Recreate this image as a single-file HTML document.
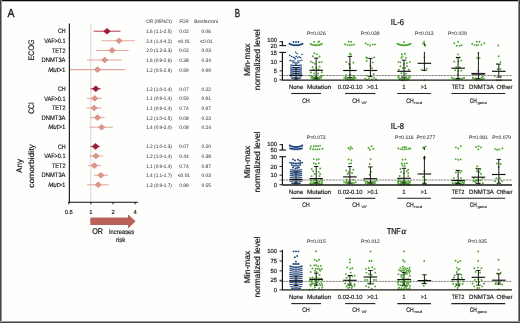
<!DOCTYPE html>
<html><head><meta charset="utf-8"><style>
html,body{margin:0;padding:0;background:#fefefc;}
body{width:520px;height:323px;overflow:hidden;position:relative;}
svg{position:absolute;left:0;top:0;font-family:"Liberation Sans", sans-serif;will-change:transform;transform:translateZ(0);text-rendering:geometricPrecision;}
.bt{position:absolute;left:0;top:0;width:520px;height:1px;background:#0a0a0a;box-shadow:0 1px 0 #bbb;}
.bl{position:absolute;left:0;top:0;width:1px;height:323px;background:#444;box-shadow:1px 0 0 #999;}
.br{position:absolute;left:519px;top:0;width:1px;height:323px;background:#444;box-shadow:-1px 0 0 #888;}
.bb{position:absolute;left:0;top:322px;width:520px;height:1px;background:#444;box-shadow:0 -1px 0 #999;}
</style></head><body>
<svg width="520" height="323" viewBox="0 0 520 323">
<text x="7.40" y="17.20" font-size="11.8" text-anchor="start" fill="#111" stroke="#111" stroke-width="0.330" textLength="7.00" lengthAdjust="spacingAndGlyphs" >A</text>
<line x1="90.8" y1="23.5" x2="90.8" y2="202" stroke="#d2d2d2" stroke-width="0.9"/>
<text x="146.20" y="22.50" font-size="4.9" text-anchor="start" fill="#444" stroke="#444" stroke-width="0.050" textLength="25.70" lengthAdjust="spacingAndGlyphs" >OR (95%CI)</text>
<text x="179.50" y="22.50" font-size="4.9" text-anchor="start" fill="#444" stroke="#444" stroke-width="0.050" textLength="9.20" lengthAdjust="spacingAndGlyphs" >FDR</text>
<text x="194.20" y="22.50" font-size="4.9" text-anchor="start" fill="#444" stroke="#444" stroke-width="0.050" textLength="23.90" lengthAdjust="spacingAndGlyphs" >Bonferroni</text>
<line x1="93.6" y1="31.2" x2="120.5" y2="31.2" stroke="#b3404f" stroke-width="1.05"/>
<path d="M103.3 31.2L107.0 27.9L110.7 31.2L107.0 34.5Z" fill="#9a1e37"/>
<text x="65.50" y="33.30" font-size="6.5" text-anchor="end" fill="#1a1a1a" stroke="#1a1a1a" stroke-width="0.182" textLength="7.60" lengthAdjust="spacingAndGlyphs" >CH</text>
<text x="146.20" y="33.20" font-size="4.9" text-anchor="start" fill="#444" stroke="#444" stroke-width="0.050" textLength="25.70" lengthAdjust="spacingAndGlyphs" >1.6 (1.1-2.5)</text>
<text x="183.90" y="33.20" font-size="4.9" text-anchor="middle" fill="#444" stroke="#444" stroke-width="0.050" >0.02</text>
<text x="206.30" y="33.20" font-size="4.9" text-anchor="middle" fill="#444" stroke="#444" stroke-width="0.050" >0.06</text>
<line x1="101.6" y1="40.8" x2="134.9" y2="40.8" stroke="#e0aa9c" stroke-width="1.05"/>
<path d="M115.3 40.8L119.0 37.5L122.7 40.8L119.0 44.1Z" fill="#d9968a"/>
<text x="65.50" y="42.90" font-size="6.5" text-anchor="end" fill="#1a1a1a" stroke="#1a1a1a" stroke-width="0.182" textLength="21.30" lengthAdjust="spacingAndGlyphs" >VAF&gt;0.1</text>
<text x="146.20" y="42.80" font-size="4.9" text-anchor="start" fill="#444" stroke="#444" stroke-width="0.050" textLength="25.70" lengthAdjust="spacingAndGlyphs" >2.4 (1.4-4.2)</text>
<text x="183.90" y="42.80" font-size="4.9" text-anchor="middle" fill="#444" stroke="#444" stroke-width="0.050" >&lt;0.01</text>
<text x="206.30" y="42.80" font-size="4.9" text-anchor="middle" fill="#444" stroke="#444" stroke-width="0.050" >&lt;0.01</text>
<line x1="95.9" y1="50.4" x2="128.7" y2="50.4" stroke="#e0aa9c" stroke-width="1.05"/>
<path d="M108.4 50.4L112.1 47.1L115.8 50.4L112.1 53.7Z" fill="#d9968a"/>
<text x="65.50" y="52.50" font-size="6.5" text-anchor="end" fill="#1a1a1a" stroke="#1a1a1a" stroke-width="0.182" textLength="13.60" lengthAdjust="spacingAndGlyphs" >TET2</text>
<text x="146.20" y="52.40" font-size="4.9" text-anchor="start" fill="#444" stroke="#444" stroke-width="0.050" textLength="25.70" lengthAdjust="spacingAndGlyphs" >2.0 (1.2-3.3)</text>
<text x="183.90" y="52.40" font-size="4.9" text-anchor="middle" fill="#444" stroke="#444" stroke-width="0.050" >0.02</text>
<text x="206.30" y="52.40" font-size="4.9" text-anchor="middle" fill="#444" stroke="#444" stroke-width="0.050" >0.03</text>
<line x1="87.0" y1="60.0" x2="121.7" y2="60.0" stroke="#e0aa9c" stroke-width="1.05"/>
<path d="M101.0 60.0L104.7 56.7L108.4 60.0L104.7 63.3Z" fill="#d9968a"/>
<text x="65.50" y="62.10" font-size="6.5" text-anchor="end" fill="#1a1a1a" stroke="#1a1a1a" stroke-width="0.182" textLength="23.90" lengthAdjust="spacingAndGlyphs" >DNMT3A</text>
<text x="146.20" y="62.00" font-size="4.9" text-anchor="start" fill="#444" stroke="#444" stroke-width="0.050" textLength="25.70" lengthAdjust="spacingAndGlyphs" >1.6 (0.9-2.6)</text>
<text x="183.90" y="62.00" font-size="4.9" text-anchor="middle" fill="#444" stroke="#444" stroke-width="0.050" >0.38</text>
<text x="206.30" y="62.00" font-size="4.9" text-anchor="middle" fill="#444" stroke="#444" stroke-width="0.050" >0.34</text>
<line x1="69.4" y1="69.6" x2="124.8" y2="69.6" stroke="#e0aa9c" stroke-width="1.05"/>
<path d="M93.8 69.6L97.5 66.3L101.2 69.6L97.5 72.9Z" fill="#d9968a"/>
<text x="65.50" y="71.70" font-size="6.5" text-anchor="end" fill="#1a1a1a" stroke="#1a1a1a" stroke-width="0.182" textLength="17.30" lengthAdjust="spacingAndGlyphs" ><tspan font-style="italic">Mut</tspan>&gt;1</text>
<text x="146.20" y="71.60" font-size="4.9" text-anchor="start" fill="#444" stroke="#444" stroke-width="0.050" textLength="25.70" lengthAdjust="spacingAndGlyphs" >1.2 (0.5-2.9)</text>
<text x="183.90" y="71.60" font-size="4.9" text-anchor="middle" fill="#444" stroke="#444" stroke-width="0.050" >0.99</text>
<text x="206.30" y="71.60" font-size="4.9" text-anchor="middle" fill="#444" stroke="#444" stroke-width="0.050" >0.99</text>
<line x1="90.5" y1="88.8" x2="100.9" y2="88.8" stroke="#b3404f" stroke-width="1.05"/>
<path d="M92.1 88.8L95.8 85.5L99.5 88.8L95.8 92.1Z" fill="#9a1e37"/>
<text x="65.50" y="90.90" font-size="6.5" text-anchor="end" fill="#1a1a1a" stroke="#1a1a1a" stroke-width="0.182" textLength="7.60" lengthAdjust="spacingAndGlyphs" >CH</text>
<text x="146.20" y="90.80" font-size="4.9" text-anchor="start" fill="#444" stroke="#444" stroke-width="0.050" textLength="25.70" lengthAdjust="spacingAndGlyphs" >1.2 (1.0-1.4)</text>
<text x="183.90" y="90.80" font-size="4.9" text-anchor="middle" fill="#444" stroke="#444" stroke-width="0.050" >0.07</text>
<text x="206.30" y="90.80" font-size="4.9" text-anchor="middle" fill="#444" stroke="#444" stroke-width="0.050" >0.22</text>
<line x1="87.0" y1="98.4" x2="102.0" y2="98.4" stroke="#e0aa9c" stroke-width="1.05"/>
<path d="M91.0 98.4L94.7 95.1L98.4 98.4L94.7 101.7Z" fill="#d9968a"/>
<text x="65.50" y="100.50" font-size="6.5" text-anchor="end" fill="#1a1a1a" stroke="#1a1a1a" stroke-width="0.182" textLength="21.30" lengthAdjust="spacingAndGlyphs" >VAF&gt;0.1</text>
<text x="146.20" y="100.40" font-size="4.9" text-anchor="start" fill="#444" stroke="#444" stroke-width="0.050" textLength="25.70" lengthAdjust="spacingAndGlyphs" >1.1 (0.9-1.4)</text>
<text x="183.90" y="100.40" font-size="4.9" text-anchor="middle" fill="#444" stroke="#444" stroke-width="0.050" >0.59</text>
<text x="206.30" y="100.40" font-size="4.9" text-anchor="middle" fill="#444" stroke="#444" stroke-width="0.050" >0.91</text>
<line x1="86.5" y1="108.0" x2="101.6" y2="108.0" stroke="#e0aa9c" stroke-width="1.05"/>
<path d="M90.5 108.0L94.2 104.7L97.9 108.0L94.2 111.3Z" fill="#d9968a"/>
<text x="65.50" y="110.10" font-size="6.5" text-anchor="end" fill="#1a1a1a" stroke="#1a1a1a" stroke-width="0.182" textLength="13.60" lengthAdjust="spacingAndGlyphs" >TET2</text>
<text x="146.20" y="110.00" font-size="4.9" text-anchor="start" fill="#444" stroke="#444" stroke-width="0.050" textLength="25.70" lengthAdjust="spacingAndGlyphs" >1.1 (0.9-1.4)</text>
<text x="183.90" y="110.00" font-size="4.9" text-anchor="middle" fill="#444" stroke="#444" stroke-width="0.050" >0.74</text>
<text x="206.30" y="110.00" font-size="4.9" text-anchor="middle" fill="#444" stroke="#444" stroke-width="0.050" >0.97</text>
<line x1="90.0" y1="117.6" x2="104.7" y2="117.6" stroke="#e0aa9c" stroke-width="1.05"/>
<path d="M93.8 117.6L97.5 114.3L101.2 117.6L97.5 120.9Z" fill="#d9968a"/>
<text x="65.50" y="119.70" font-size="6.5" text-anchor="end" fill="#1a1a1a" stroke="#1a1a1a" stroke-width="0.182" textLength="23.90" lengthAdjust="spacingAndGlyphs" >DNMT3A</text>
<text x="146.20" y="119.60" font-size="4.9" text-anchor="start" fill="#444" stroke="#444" stroke-width="0.050" textLength="25.70" lengthAdjust="spacingAndGlyphs" >1.2 (1.0-1.5)</text>
<text x="183.90" y="119.60" font-size="4.9" text-anchor="middle" fill="#444" stroke="#444" stroke-width="0.050" >0.08</text>
<text x="206.30" y="119.60" font-size="4.9" text-anchor="middle" fill="#444" stroke="#444" stroke-width="0.050" >0.23</text>
<line x1="89.3" y1="127.2" x2="112.9" y2="127.2" stroke="#e0aa9c" stroke-width="1.05"/>
<path d="M97.9 127.2L101.6 123.9L105.3 127.2L101.6 130.5Z" fill="#d9968a"/>
<text x="65.50" y="129.30" font-size="6.5" text-anchor="end" fill="#1a1a1a" stroke="#1a1a1a" stroke-width="0.182" textLength="17.30" lengthAdjust="spacingAndGlyphs" ><tspan font-style="italic">Mut</tspan>&gt;1</text>
<text x="146.20" y="129.20" font-size="4.9" text-anchor="start" fill="#444" stroke="#444" stroke-width="0.050" textLength="25.70" lengthAdjust="spacingAndGlyphs" >1.4 (0.9-2.0)</text>
<text x="183.90" y="129.20" font-size="4.9" text-anchor="middle" fill="#444" stroke="#444" stroke-width="0.050" >0.08</text>
<text x="206.30" y="129.20" font-size="4.9" text-anchor="middle" fill="#444" stroke="#444" stroke-width="0.050" >0.24</text>
<line x1="90.5" y1="146.4" x2="100.1" y2="146.4" stroke="#b3404f" stroke-width="1.05"/>
<path d="M91.8 146.4L95.5 143.1L99.2 146.4L95.5 149.7Z" fill="#9a1e37"/>
<text x="65.50" y="148.50" font-size="6.5" text-anchor="end" fill="#1a1a1a" stroke="#1a1a1a" stroke-width="0.182" textLength="7.60" lengthAdjust="spacingAndGlyphs" >CH</text>
<text x="146.20" y="148.40" font-size="4.9" text-anchor="start" fill="#444" stroke="#444" stroke-width="0.050" textLength="25.70" lengthAdjust="spacingAndGlyphs" >1.2 (1.0-1.3)</text>
<text x="183.90" y="148.40" font-size="4.9" text-anchor="middle" fill="#444" stroke="#444" stroke-width="0.050" >0.07</text>
<text x="206.30" y="148.40" font-size="4.9" text-anchor="middle" fill="#444" stroke="#444" stroke-width="0.050" >0.20</text>
<line x1="89.3" y1="156.0" x2="102.9" y2="156.0" stroke="#e0aa9c" stroke-width="1.05"/>
<path d="M92.2 156.0L95.9 152.7L99.6 156.0L95.9 159.3Z" fill="#d9968a"/>
<text x="65.50" y="158.10" font-size="6.5" text-anchor="end" fill="#1a1a1a" stroke="#1a1a1a" stroke-width="0.182" textLength="21.30" lengthAdjust="spacingAndGlyphs" >VAF&gt;0.1</text>
<text x="146.20" y="158.00" font-size="4.9" text-anchor="start" fill="#444" stroke="#444" stroke-width="0.050" textLength="25.70" lengthAdjust="spacingAndGlyphs" >1.2 (1.0-1.4)</text>
<text x="183.90" y="158.00" font-size="4.9" text-anchor="middle" fill="#444" stroke="#444" stroke-width="0.050" >0.44</text>
<text x="206.30" y="158.00" font-size="4.9" text-anchor="middle" fill="#444" stroke="#444" stroke-width="0.050" >0.38</text>
<line x1="87.7" y1="165.6" x2="100.9" y2="165.6" stroke="#e0aa9c" stroke-width="1.05"/>
<path d="M90.7 165.6L94.4 162.3L98.1 165.6L94.4 168.9Z" fill="#d9968a"/>
<text x="65.50" y="167.70" font-size="6.5" text-anchor="end" fill="#1a1a1a" stroke="#1a1a1a" stroke-width="0.182" textLength="13.60" lengthAdjust="spacingAndGlyphs" >TET2</text>
<text x="146.20" y="167.60" font-size="4.9" text-anchor="start" fill="#444" stroke="#444" stroke-width="0.050" textLength="25.70" lengthAdjust="spacingAndGlyphs" >1.1 (0.9-1.4)</text>
<text x="183.90" y="167.60" font-size="4.9" text-anchor="middle" fill="#444" stroke="#444" stroke-width="0.050" >0.74</text>
<text x="206.30" y="167.60" font-size="4.9" text-anchor="middle" fill="#444" stroke="#444" stroke-width="0.050" >0.87</text>
<line x1="93.9" y1="175.2" x2="107.8" y2="175.2" stroke="#e0aa9c" stroke-width="1.05"/>
<path d="M97.2 175.2L100.9 171.9L104.6 175.2L100.9 178.5Z" fill="#d9968a"/>
<text x="65.50" y="177.30" font-size="6.5" text-anchor="end" fill="#1a1a1a" stroke="#1a1a1a" stroke-width="0.182" textLength="23.90" lengthAdjust="spacingAndGlyphs" >DNMT3A</text>
<text x="146.20" y="177.20" font-size="4.9" text-anchor="start" fill="#444" stroke="#444" stroke-width="0.050" textLength="25.70" lengthAdjust="spacingAndGlyphs" >1.4 (1.1-1.7)</text>
<text x="183.90" y="177.20" font-size="4.9" text-anchor="middle" fill="#444" stroke="#444" stroke-width="0.050" >&lt;0.01</text>
<text x="206.30" y="177.20" font-size="4.9" text-anchor="middle" fill="#444" stroke="#444" stroke-width="0.050" >0.03</text>
<line x1="87.0" y1="184.8" x2="108.6" y2="184.8" stroke="#e0aa9c" stroke-width="1.05"/>
<path d="M94.5 184.8L98.2 181.5L101.9 184.8L98.2 188.1Z" fill="#d9968a"/>
<text x="65.50" y="186.90" font-size="6.5" text-anchor="end" fill="#1a1a1a" stroke="#1a1a1a" stroke-width="0.182" textLength="17.30" lengthAdjust="spacingAndGlyphs" ><tspan font-style="italic">Mut</tspan>&gt;1</text>
<text x="146.20" y="186.80" font-size="4.9" text-anchor="start" fill="#444" stroke="#444" stroke-width="0.050" textLength="25.70" lengthAdjust="spacingAndGlyphs" >1.3 (0.9-1.7)</text>
<text x="183.90" y="186.80" font-size="4.9" text-anchor="middle" fill="#444" stroke="#444" stroke-width="0.050" >0.99</text>
<text x="206.30" y="186.80" font-size="4.9" text-anchor="middle" fill="#444" stroke="#444" stroke-width="0.050" >0.55</text>
<line x1="69.4" y1="23.5" x2="69.4" y2="202.8" stroke="#222" stroke-width="1.2"/>
<line x1="68.8" y1="202.3" x2="138.0" y2="202.3" stroke="#111" stroke-width="1.1"/>
<line x1="68.8" y1="202" x2="68.8" y2="204.3" stroke="#111" stroke-width="1"/>
<text x="68.80" y="213.80" font-size="5.8" text-anchor="middle" fill="#1a1a1a" stroke="#1a1a1a" stroke-width="0.162" >0.5</text>
<line x1="90.9" y1="202" x2="90.9" y2="204.3" stroke="#111" stroke-width="1"/>
<text x="90.90" y="213.80" font-size="5.8" text-anchor="middle" fill="#1a1a1a" stroke="#1a1a1a" stroke-width="0.162" >1</text>
<line x1="113.0" y1="202" x2="113.0" y2="204.3" stroke="#111" stroke-width="1"/>
<text x="113.00" y="213.80" font-size="5.8" text-anchor="middle" fill="#1a1a1a" stroke="#1a1a1a" stroke-width="0.162" >2</text>
<line x1="135.1" y1="202" x2="135.1" y2="204.3" stroke="#111" stroke-width="1"/>
<text x="135.10" y="213.80" font-size="5.8" text-anchor="middle" fill="#1a1a1a" stroke="#1a1a1a" stroke-width="0.162" >4</text>
<text transform="translate(33.60,50.00) rotate(-90)" font-size="8.1" text-anchor="middle" fill="#1a1a1a" stroke="#1a1a1a" stroke-width="0.178" textLength="21.00" lengthAdjust="spacingAndGlyphs">ECOG</text>
<text transform="translate(33.60,108.00) rotate(-90)" font-size="8.1" text-anchor="middle" fill="#1a1a1a" stroke="#1a1a1a" stroke-width="0.178" textLength="11.50" lengthAdjust="spacingAndGlyphs">CCI</text>
<text transform="translate(22.00,166.00) rotate(-90)" font-size="8.0" text-anchor="middle" fill="#1a1a1a" stroke="#1a1a1a" stroke-width="0.176" textLength="14.00" lengthAdjust="spacingAndGlyphs">Any</text>
<text transform="translate(33.80,166.00) rotate(-90)" font-size="7.9" text-anchor="middle" fill="#1a1a1a" stroke="#1a1a1a" stroke-width="0.174" textLength="43.50" lengthAdjust="spacingAndGlyphs">comorbidity</text>
<path d="M90.3 217.6H128V214.2L135.6 221.3L128 228.4V225H90.3Z" fill="#b9625a"/>
<text x="92.20" y="234.10" font-size="8.3" text-anchor="start" fill="#1a1a1a" stroke="#1a1a1a" stroke-width="0.232" textLength="10.80" lengthAdjust="spacingAndGlyphs" >OR</text>
<text x="109.00" y="234.40" font-size="6.4" text-anchor="start" fill="#1a1a1a" stroke="#1a1a1a" stroke-width="0.179" textLength="25.20" lengthAdjust="spacingAndGlyphs" >Increases</text>
<text x="116.00" y="242.20" font-size="6.4" text-anchor="start" fill="#1a1a1a" stroke="#1a1a1a" stroke-width="0.179" textLength="9.20" lengthAdjust="spacingAndGlyphs" >risk</text>
<text x="234.80" y="16.90" font-size="11.6" text-anchor="start" fill="#111" stroke="#111" stroke-width="0.325" textLength="5.30" lengthAdjust="spacingAndGlyphs" >B</text>
<text x="390.80" y="24.50" font-size="8.6" text-anchor="start" fill="#1a1a1a" stroke="#1a1a1a" stroke-width="0.241" textLength="13.20" lengthAdjust="spacingAndGlyphs" >IL-6</text>
<text transform="translate(250.20,59.80) rotate(-90)" font-size="8.4" text-anchor="middle" fill="#1a1a1a" stroke="#1a1a1a" stroke-width="0.185" textLength="32.60" lengthAdjust="spacingAndGlyphs">Min-max</text>
<text transform="translate(259.60,59.80) rotate(-90)" font-size="8.4" text-anchor="middle" fill="#1a1a1a" stroke="#1a1a1a" stroke-width="0.185" textLength="61.00" lengthAdjust="spacingAndGlyphs">normalized level</text>
<line x1="279.5" y1="75.5" x2="512" y2="75.5" stroke="#6a6a6a" stroke-width="0.8" stroke-dasharray="2.4 0.7"/>
<circle cx="293.5" cy="42.0" r="0.95" fill="#1f447b"/>
<circle cx="296.0" cy="42.0" r="0.95" fill="#1f447b"/>
<circle cx="298.5" cy="42.0" r="0.95" fill="#1f447b"/>
<circle cx="289.5" cy="43.7" r="0.95" fill="#1f447b"/>
<circle cx="290.7" cy="44.2" r="0.95" fill="#1f447b"/>
<circle cx="291.9" cy="44.7" r="0.95" fill="#1f447b"/>
<circle cx="293.0" cy="45.0" r="0.95" fill="#1f447b"/>
<circle cx="294.2" cy="45.2" r="0.95" fill="#1f447b"/>
<circle cx="295.4" cy="45.3" r="0.95" fill="#1f447b"/>
<circle cx="296.6" cy="45.3" r="0.95" fill="#1f447b"/>
<circle cx="297.8" cy="45.2" r="0.95" fill="#1f447b"/>
<circle cx="299.0" cy="45.0" r="0.95" fill="#1f447b"/>
<circle cx="300.1" cy="44.7" r="0.95" fill="#1f447b"/>
<circle cx="301.3" cy="44.2" r="0.95" fill="#1f447b"/>
<circle cx="302.5" cy="43.7" r="0.95" fill="#1f447b"/>
<circle cx="295.6" cy="52.3" r="0.8" fill="#1f447b"/>
<circle cx="297.1" cy="53.6" r="0.8" fill="#1f447b"/>
<circle cx="289.7" cy="55.4" r="0.8" fill="#1f447b"/>
<circle cx="302.1" cy="54.5" r="0.8" fill="#1f447b"/>
<circle cx="291.5" cy="56.5" r="0.8" fill="#1f447b"/>
<circle cx="293.2" cy="57.2" r="0.8" fill="#1f447b"/>
<circle cx="294.6" cy="57.9" r="0.8" fill="#1f447b"/>
<circle cx="296.2" cy="56.4" r="0.8" fill="#1f447b"/>
<circle cx="297.6" cy="57.6" r="0.8" fill="#1f447b"/>
<circle cx="299.1" cy="56.9" r="0.8" fill="#1f447b"/>
<circle cx="300.6" cy="57.6" r="0.8" fill="#1f447b"/>
<circle cx="295.4" cy="59.0" r="0.8" fill="#1f447b"/>
<circle cx="290.2" cy="60.4" r="0.8" fill="#1f447b"/>
<circle cx="292.0" cy="60.9" r="0.8" fill="#1f447b"/>
<circle cx="294.0" cy="61.1" r="0.8" fill="#1f447b"/>
<circle cx="298.0" cy="61.1" r="0.8" fill="#1f447b"/>
<circle cx="300.0" cy="60.8" r="0.8" fill="#1f447b"/>
<circle cx="301.9" cy="60.3" r="0.8" fill="#1f447b"/>
<circle cx="293.2" cy="62.6" r="0.8" fill="#1f447b"/>
<circle cx="295.0" cy="62.9" r="0.8" fill="#1f447b"/>
<circle cx="297.0" cy="62.9" r="0.8" fill="#1f447b"/>
<circle cx="298.8" cy="62.6" r="0.8" fill="#1f447b"/>
<circle cx="296.0" cy="64.2" r="0.95" fill="#1f447b"/>
<path d="M290.4 65.0Q296.0 66.0 301.6 65.0" stroke="#1f447b" stroke-width="1.1" fill="none" stroke-linecap="round"/>
<path d="M290.4 67.0Q296.0 68.0 301.6 67.0" stroke="#1f447b" stroke-width="1.1" fill="none" stroke-linecap="round"/>
<path d="M290.4 68.9Q296.0 69.9 301.6 68.9" stroke="#1f447b" stroke-width="1.1" fill="none" stroke-linecap="round"/>
<path d="M290.4 70.9Q296.0 71.9 301.6 70.9" stroke="#1f447b" stroke-width="1.1" fill="none" stroke-linecap="round"/>
<path d="M290.4 72.9Q296.0 73.9 301.6 72.9" stroke="#1f447b" stroke-width="1.1" fill="none" stroke-linecap="round"/>
<path d="M290.4 74.8Q296.0 75.8 301.6 74.8" stroke="#1f447b" stroke-width="1.1" fill="none" stroke-linecap="round"/>
<path d="M290.7 76.7Q296.0 77.9 301.3 76.7" stroke="#1f447b" stroke-width="1.1" fill="none" stroke-linecap="round"/>
<path d="M291.7 78.4Q296.0 79.8 300.3 78.4" stroke="#1f447b" stroke-width="1.1" fill="none" stroke-linecap="round"/>
<circle cx="314.2" cy="41.8" r="0.95" fill="#4fa434"/>
<circle cx="318.2" cy="42.1" r="0.95" fill="#4fa434"/>
<circle cx="319.1" cy="41.4" r="0.95" fill="#4fa434"/>
<circle cx="310.6" cy="43.9" r="0.95" fill="#4fa434"/>
<circle cx="311.8" cy="44.5" r="0.95" fill="#4fa434"/>
<circle cx="313.1" cy="44.9" r="0.95" fill="#4fa434"/>
<circle cx="314.3" cy="45.1" r="0.95" fill="#4fa434"/>
<circle cx="315.6" cy="45.3" r="0.95" fill="#4fa434"/>
<circle cx="316.8" cy="45.3" r="0.95" fill="#4fa434"/>
<circle cx="318.1" cy="45.1" r="0.95" fill="#4fa434"/>
<circle cx="319.3" cy="44.9" r="0.95" fill="#4fa434"/>
<circle cx="320.6" cy="44.5" r="0.95" fill="#4fa434"/>
<circle cx="321.8" cy="43.9" r="0.95" fill="#4fa434"/>
<circle cx="314.2" cy="53.2" r="0.95" fill="#4fa434"/>
<circle cx="316.9" cy="54.3" r="0.95" fill="#4fa434"/>
<circle cx="312.8" cy="56.3" r="0.95" fill="#4fa434"/>
<circle cx="319.6" cy="56.5" r="0.95" fill="#4fa434"/>
<circle cx="310.8" cy="61.8" r="0.95" fill="#4fa434"/>
<circle cx="312.8" cy="62.6" r="0.95" fill="#4fa434"/>
<circle cx="319.3" cy="62.3" r="0.95" fill="#4fa434"/>
<circle cx="321.6" cy="61.9" r="0.95" fill="#4fa434"/>
<circle cx="315.0" cy="63.8" r="0.95" fill="#4fa434"/>
<circle cx="319.6" cy="66.5" r="0.95" fill="#4fa434"/>
<circle cx="312.6" cy="67.0" r="0.95" fill="#4fa434"/>
<circle cx="316.3" cy="67.6" r="0.95" fill="#4fa434"/>
<circle cx="313.4" cy="69.5" r="0.95" fill="#4fa434"/>
<circle cx="318.5" cy="69.3" r="0.95" fill="#4fa434"/>
<circle cx="311.0" cy="72.5" r="0.95" fill="#4fa434"/>
<circle cx="321.8" cy="72.3" r="0.95" fill="#4fa434"/>
<circle cx="314.2" cy="73.5" r="0.95" fill="#4fa434"/>
<circle cx="318.0" cy="73.4" r="0.95" fill="#4fa434"/>
<circle cx="309.9" cy="75.6" r="0.95" fill="#4fa434"/>
<circle cx="311.5" cy="76.6" r="0.95" fill="#4fa434"/>
<circle cx="313.1" cy="77.2" r="0.95" fill="#4fa434"/>
<circle cx="314.6" cy="77.7" r="0.95" fill="#4fa434"/>
<circle cx="316.2" cy="77.8" r="0.95" fill="#4fa434"/>
<circle cx="317.8" cy="77.7" r="0.95" fill="#4fa434"/>
<circle cx="319.3" cy="77.2" r="0.95" fill="#4fa434"/>
<circle cx="320.9" cy="76.6" r="0.95" fill="#4fa434"/>
<circle cx="322.5" cy="75.6" r="0.95" fill="#4fa434"/>
<circle cx="311.2" cy="78.1" r="0.95" fill="#4fa434"/>
<circle cx="312.9" cy="78.8" r="0.95" fill="#4fa434"/>
<circle cx="314.5" cy="79.2" r="0.95" fill="#4fa434"/>
<circle cx="316.2" cy="79.3" r="0.95" fill="#4fa434"/>
<circle cx="317.9" cy="79.2" r="0.95" fill="#4fa434"/>
<circle cx="319.5" cy="78.8" r="0.95" fill="#4fa434"/>
<circle cx="321.2" cy="78.1" r="0.95" fill="#4fa434"/>
<circle cx="315.7" cy="77.0" r="0.95" fill="#4fa434"/>
<circle cx="320.9" cy="76.6" r="0.95" fill="#4fa434"/>
<circle cx="316.3" cy="77.1" r="0.95" fill="#4fa434"/>
<circle cx="312.7" cy="76.8" r="0.95" fill="#4fa434"/>
<circle cx="317.6" cy="78.1" r="0.95" fill="#4fa434"/>
<circle cx="311.7" cy="75.9" r="0.95" fill="#4fa434"/>
<circle cx="348.7" cy="41.7" r="0.95" fill="#4fa434"/>
<circle cx="351.1" cy="41.7" r="0.95" fill="#4fa434"/>
<circle cx="345.1" cy="44.2" r="0.95" fill="#4fa434"/>
<circle cx="347.5" cy="44.9" r="0.95" fill="#4fa434"/>
<circle cx="349.7" cy="45.3" r="0.95" fill="#4fa434"/>
<circle cx="351.9" cy="44.9" r="0.95" fill="#4fa434"/>
<circle cx="354.2" cy="44.6" r="0.95" fill="#4fa434"/>
<circle cx="349.9" cy="53.8" r="0.95" fill="#4fa434"/>
<circle cx="350.9" cy="54.5" r="0.95" fill="#4fa434"/>
<circle cx="346.4" cy="61.9" r="0.95" fill="#4fa434"/>
<circle cx="353.4" cy="62.7" r="0.95" fill="#4fa434"/>
<circle cx="348.9" cy="63.9" r="0.95" fill="#4fa434"/>
<circle cx="349.9" cy="64.4" r="0.95" fill="#4fa434"/>
<circle cx="349.9" cy="67.3" r="0.95" fill="#4fa434"/>
<circle cx="349.9" cy="68.3" r="0.95" fill="#4fa434"/>
<circle cx="346.4" cy="75.2" r="0.95" fill="#4fa434"/>
<circle cx="353.4" cy="75.7" r="0.95" fill="#4fa434"/>
<circle cx="350.4" cy="74.8" r="0.95" fill="#4fa434"/>
<circle cx="346.0" cy="77.0" r="0.95" fill="#4fa434"/>
<circle cx="354.0" cy="77.0" r="0.95" fill="#4fa434"/>
<circle cx="344.1" cy="78.1" r="0.95" fill="#4fa434"/>
<circle cx="345.8" cy="78.8" r="0.95" fill="#4fa434"/>
<circle cx="347.4" cy="79.3" r="0.95" fill="#4fa434"/>
<circle cx="349.1" cy="79.6" r="0.95" fill="#4fa434"/>
<circle cx="350.7" cy="79.6" r="0.95" fill="#4fa434"/>
<circle cx="352.4" cy="79.3" r="0.95" fill="#4fa434"/>
<circle cx="354.0" cy="78.8" r="0.95" fill="#4fa434"/>
<circle cx="355.7" cy="78.1" r="0.95" fill="#4fa434"/>
<circle cx="345.4" cy="77.2" r="0.95" fill="#4fa434"/>
<circle cx="347.6" cy="78.0" r="0.95" fill="#4fa434"/>
<circle cx="349.9" cy="78.2" r="0.95" fill="#4fa434"/>
<circle cx="352.1" cy="78.0" r="0.95" fill="#4fa434"/>
<circle cx="354.4" cy="77.2" r="0.95" fill="#4fa434"/>
<circle cx="365.7" cy="43.5" r="0.95" fill="#4fa434"/>
<circle cx="367.9" cy="44.6" r="0.95" fill="#4fa434"/>
<circle cx="370.1" cy="45.5" r="0.95" fill="#4fa434"/>
<circle cx="372.7" cy="44.6" r="0.95" fill="#4fa434"/>
<circle cx="375.0" cy="44.4" r="0.95" fill="#4fa434"/>
<circle cx="366.2" cy="57.4" r="0.95" fill="#4fa434"/>
<circle cx="374.2" cy="57.4" r="0.95" fill="#4fa434"/>
<circle cx="367.2" cy="58.3" r="0.95" fill="#4fa434"/>
<circle cx="366.7" cy="60.9" r="0.95" fill="#4fa434"/>
<circle cx="372.7" cy="62.4" r="0.95" fill="#4fa434"/>
<circle cx="370.4" cy="65.8" r="0.95" fill="#4fa434"/>
<circle cx="371.9" cy="68.3" r="0.95" fill="#4fa434"/>
<circle cx="373.6" cy="74.0" r="0.95" fill="#4fa434"/>
<circle cx="367.0" cy="75.7" r="0.95" fill="#4fa434"/>
<circle cx="370.4" cy="76.2" r="0.95" fill="#4fa434"/>
<circle cx="365.0" cy="78.6" r="0.95" fill="#4fa434"/>
<circle cx="368.8" cy="78.6" r="0.95" fill="#4fa434"/>
<circle cx="374.0" cy="77.8" r="0.95" fill="#4fa434"/>
<circle cx="376.0" cy="79.0" r="0.95" fill="#4fa434"/>
<circle cx="372.0" cy="79.5" r="0.95" fill="#4fa434"/>
<circle cx="366.8" cy="79.6" r="0.95" fill="#4fa434"/>
<circle cx="404.0" cy="42.0" r="0.95" fill="#4fa434"/>
<circle cx="397.5" cy="43.7" r="0.95" fill="#4fa434"/>
<circle cx="398.7" cy="44.2" r="0.95" fill="#4fa434"/>
<circle cx="399.9" cy="44.7" r="0.95" fill="#4fa434"/>
<circle cx="401.0" cy="45.0" r="0.95" fill="#4fa434"/>
<circle cx="402.2" cy="45.2" r="0.95" fill="#4fa434"/>
<circle cx="403.4" cy="45.3" r="0.95" fill="#4fa434"/>
<circle cx="404.6" cy="45.3" r="0.95" fill="#4fa434"/>
<circle cx="405.8" cy="45.2" r="0.95" fill="#4fa434"/>
<circle cx="407.0" cy="45.0" r="0.95" fill="#4fa434"/>
<circle cx="408.1" cy="44.7" r="0.95" fill="#4fa434"/>
<circle cx="409.3" cy="44.2" r="0.95" fill="#4fa434"/>
<circle cx="410.5" cy="43.7" r="0.95" fill="#4fa434"/>
<circle cx="401.9" cy="54.2" r="0.95" fill="#4fa434"/>
<circle cx="404.9" cy="53.8" r="0.95" fill="#4fa434"/>
<circle cx="402.4" cy="56.4" r="0.95" fill="#4fa434"/>
<circle cx="405.9" cy="57.7" r="0.95" fill="#4fa434"/>
<circle cx="401.4" cy="57.9" r="0.95" fill="#4fa434"/>
<circle cx="398.5" cy="61.9" r="0.95" fill="#4fa434"/>
<circle cx="400.4" cy="62.4" r="0.95" fill="#4fa434"/>
<circle cx="406.9" cy="62.9" r="0.95" fill="#4fa434"/>
<circle cx="409.8" cy="61.9" r="0.95" fill="#4fa434"/>
<circle cx="403.9" cy="63.9" r="0.95" fill="#4fa434"/>
<circle cx="400.4" cy="66.3" r="0.95" fill="#4fa434"/>
<circle cx="406.9" cy="66.3" r="0.95" fill="#4fa434"/>
<circle cx="402.9" cy="68.3" r="0.95" fill="#4fa434"/>
<circle cx="404.9" cy="68.0" r="0.95" fill="#4fa434"/>
<circle cx="398.9" cy="69.8" r="0.95" fill="#4fa434"/>
<circle cx="408.9" cy="69.8" r="0.95" fill="#4fa434"/>
<circle cx="401.4" cy="73.3" r="0.95" fill="#4fa434"/>
<circle cx="405.9" cy="73.8" r="0.95" fill="#4fa434"/>
<circle cx="398.9" cy="75.7" r="0.95" fill="#4fa434"/>
<circle cx="408.9" cy="75.7" r="0.95" fill="#4fa434"/>
<circle cx="401.9" cy="76.7" r="0.95" fill="#4fa434"/>
<circle cx="406.4" cy="76.7" r="0.95" fill="#4fa434"/>
<circle cx="398.0" cy="77.3" r="0.95" fill="#4fa434"/>
<circle cx="399.3" cy="78.1" r="0.95" fill="#4fa434"/>
<circle cx="400.7" cy="78.7" r="0.95" fill="#4fa434"/>
<circle cx="402.0" cy="79.1" r="0.95" fill="#4fa434"/>
<circle cx="403.3" cy="79.3" r="0.95" fill="#4fa434"/>
<circle cx="404.7" cy="79.3" r="0.95" fill="#4fa434"/>
<circle cx="406.0" cy="79.1" r="0.95" fill="#4fa434"/>
<circle cx="407.3" cy="78.7" r="0.95" fill="#4fa434"/>
<circle cx="408.7" cy="78.1" r="0.95" fill="#4fa434"/>
<circle cx="410.0" cy="77.3" r="0.95" fill="#4fa434"/>
<circle cx="399.5" cy="79.5" r="0.95" fill="#4fa434"/>
<circle cx="401.3" cy="80.0" r="0.95" fill="#4fa434"/>
<circle cx="403.1" cy="80.3" r="0.95" fill="#4fa434"/>
<circle cx="404.9" cy="80.3" r="0.95" fill="#4fa434"/>
<circle cx="406.7" cy="80.0" r="0.95" fill="#4fa434"/>
<circle cx="408.5" cy="79.5" r="0.95" fill="#4fa434"/>
<circle cx="424.1" cy="41.7" r="0.95" fill="#4fa434"/>
<circle cx="423.2" cy="43.5" r="0.95" fill="#4fa434"/>
<circle cx="425.0" cy="45.1" r="0.95" fill="#4fa434"/>
<circle cx="425.4" cy="45.8" r="0.95" fill="#4fa434"/>
<circle cx="424.4" cy="57.4" r="0.95" fill="#4fa434"/>
<circle cx="421.7" cy="69.8" r="0.95" fill="#4fa434"/>
<circle cx="426.7" cy="68.8" r="0.95" fill="#4fa434"/>
<circle cx="424.4" cy="70.3" r="0.95" fill="#4fa434"/>
<circle cx="424.4" cy="80.2" r="0.95" fill="#4fa434"/>
<circle cx="454.3" cy="43.2" r="0.95" fill="#4fa434"/>
<circle cx="458.1" cy="41.7" r="0.95" fill="#4fa434"/>
<circle cx="456.7" cy="45.8" r="0.95" fill="#4fa434"/>
<circle cx="459.5" cy="45.8" r="0.95" fill="#4fa434"/>
<circle cx="461.6" cy="45.2" r="0.95" fill="#4fa434"/>
<circle cx="458.1" cy="54.4" r="0.95" fill="#4fa434"/>
<circle cx="456.8" cy="57.5" r="0.95" fill="#4fa434"/>
<circle cx="459.6" cy="57.5" r="0.95" fill="#4fa434"/>
<circle cx="454.3" cy="61.5" r="0.95" fill="#4fa434"/>
<circle cx="461.3" cy="60.4" r="0.95" fill="#4fa434"/>
<circle cx="458.4" cy="61.5" r="0.95" fill="#4fa434"/>
<circle cx="456.2" cy="67.3" r="0.95" fill="#4fa434"/>
<circle cx="459.8" cy="67.3" r="0.95" fill="#4fa434"/>
<circle cx="455.0" cy="70.2" r="0.95" fill="#4fa434"/>
<circle cx="458.4" cy="71.3" r="0.95" fill="#4fa434"/>
<circle cx="461.3" cy="70.6" r="0.95" fill="#4fa434"/>
<circle cx="457.9" cy="74.2" r="0.95" fill="#4fa434"/>
<circle cx="451.9" cy="77.8" r="0.95" fill="#4fa434"/>
<circle cx="453.5" cy="78.5" r="0.95" fill="#4fa434"/>
<circle cx="455.0" cy="79.0" r="0.95" fill="#4fa434"/>
<circle cx="456.6" cy="79.3" r="0.95" fill="#4fa434"/>
<circle cx="458.1" cy="79.4" r="0.95" fill="#4fa434"/>
<circle cx="459.7" cy="79.3" r="0.95" fill="#4fa434"/>
<circle cx="461.2" cy="79.0" r="0.95" fill="#4fa434"/>
<circle cx="462.8" cy="78.5" r="0.95" fill="#4fa434"/>
<circle cx="464.3" cy="77.8" r="0.95" fill="#4fa434"/>
<circle cx="476.8" cy="41.7" r="0.95" fill="#4fa434"/>
<circle cx="479.4" cy="41.7" r="0.95" fill="#4fa434"/>
<circle cx="472.2" cy="44.0" r="0.95" fill="#4fa434"/>
<circle cx="474.5" cy="44.9" r="0.95" fill="#4fa434"/>
<circle cx="476.8" cy="45.2" r="0.95" fill="#4fa434"/>
<circle cx="481.4" cy="44.7" r="0.95" fill="#4fa434"/>
<circle cx="484.3" cy="43.2" r="0.95" fill="#4fa434"/>
<circle cx="478.4" cy="52.6" r="0.95" fill="#4fa434"/>
<circle cx="477.2" cy="58.1" r="0.95" fill="#4fa434"/>
<circle cx="479.6" cy="58.1" r="0.95" fill="#4fa434"/>
<circle cx="478.4" cy="70.8" r="0.95" fill="#4fa434"/>
<circle cx="473.0" cy="77.7" r="0.95" fill="#4fa434"/>
<circle cx="475.9" cy="78.3" r="0.95" fill="#4fa434"/>
<circle cx="481.7" cy="77.7" r="0.95" fill="#4fa434"/>
<circle cx="483.0" cy="76.8" r="0.95" fill="#4fa434"/>
<circle cx="472.8" cy="78.6" r="0.95" fill="#4fa434"/>
<circle cx="474.4" cy="79.2" r="0.95" fill="#4fa434"/>
<circle cx="476.0" cy="79.6" r="0.95" fill="#4fa434"/>
<circle cx="477.6" cy="79.8" r="0.95" fill="#4fa434"/>
<circle cx="479.2" cy="79.8" r="0.95" fill="#4fa434"/>
<circle cx="480.8" cy="79.6" r="0.95" fill="#4fa434"/>
<circle cx="482.4" cy="79.2" r="0.95" fill="#4fa434"/>
<circle cx="484.0" cy="78.6" r="0.95" fill="#4fa434"/>
<circle cx="498.2" cy="45.5" r="0.95" fill="#4fa434"/>
<circle cx="498.6" cy="56.3" r="0.95" fill="#4fa434"/>
<circle cx="500.5" cy="62.1" r="0.95" fill="#4fa434"/>
<circle cx="496.8" cy="64.1" r="0.95" fill="#4fa434"/>
<circle cx="497.6" cy="69.0" r="0.95" fill="#4fa434"/>
<circle cx="500.5" cy="69.0" r="0.95" fill="#4fa434"/>
<circle cx="494.8" cy="76.0" r="0.95" fill="#4fa434"/>
<circle cx="501.1" cy="76.5" r="0.95" fill="#4fa434"/>
<circle cx="496.8" cy="80.2" r="0.95" fill="#4fa434"/>
<circle cx="498.8" cy="80.2" r="0.95" fill="#4fa434"/>
<circle cx="500.8" cy="80.2" r="0.95" fill="#4fa434"/>
<line x1="282.4" y1="52.4" x2="282.4" y2="80.5" stroke="#111" stroke-width="1.15"/>
<line x1="282.4" y1="41.0" x2="282.4" y2="45.6" stroke="#111" stroke-width="1.15"/>
<line x1="279.3" y1="45.6" x2="286" y2="45.6" stroke="#111" stroke-width="1.1"/>
<line x1="279.3" y1="52.4" x2="286" y2="52.4" stroke="#111" stroke-width="1.1"/>
<line x1="282.4" y1="80.2" x2="512" y2="80.2" stroke="#1a1a1a" stroke-width="1.2"/>
<line x1="279.5" y1="41.7" x2="282.4" y2="41.7" stroke="#111" stroke-width="0.9"/>
<text x="277.00" y="42.20" font-size="5.9" text-anchor="end" fill="#1a1a1a" stroke="#1a1a1a" stroke-width="0.165" >100</text>
<text x="277.00" y="47.50" font-size="5.9" text-anchor="end" fill="#1a1a1a" stroke="#1a1a1a" stroke-width="0.165" >20</text>
<text x="277.00" y="54.60" font-size="5.9" text-anchor="end" fill="#1a1a1a" stroke="#1a1a1a" stroke-width="0.165" >15</text>
<line x1="279.5" y1="61.4" x2="282.4" y2="61.4" stroke="#111" stroke-width="0.9"/>
<text x="277.00" y="63.60" font-size="5.9" text-anchor="end" fill="#1a1a1a" stroke="#1a1a1a" stroke-width="0.165" >10</text>
<line x1="279.5" y1="70.8" x2="282.4" y2="70.8" stroke="#111" stroke-width="0.9"/>
<text x="277.00" y="72.90" font-size="5.9" text-anchor="end" fill="#1a1a1a" stroke="#1a1a1a" stroke-width="0.165" >5</text>
<line x1="279.5" y1="79.9" x2="282.4" y2="79.9" stroke="#111" stroke-width="0.9"/>
<text x="277.00" y="82.00" font-size="5.9" text-anchor="end" fill="#1a1a1a" stroke="#1a1a1a" stroke-width="0.165" >0</text>
<line x1="296.0" y1="67.8" x2="296.0" y2="78.7" stroke="#111" stroke-width="0.95"/>
<line x1="293.8" y1="67.8" x2="298.2" y2="67.8" stroke="#111" stroke-width="0.95"/>
<line x1="293.8" y1="78.7" x2="298.2" y2="78.7" stroke="#111" stroke-width="0.95"/>
<line x1="289.2" y1="75.4" x2="302.8" y2="75.4" stroke="#111" stroke-width="1.15"/>
<line x1="316.2" y1="58.1" x2="316.2" y2="78.3" stroke="#111" stroke-width="0.95"/>
<line x1="314.0" y1="58.1" x2="318.4" y2="58.1" stroke="#111" stroke-width="0.95"/>
<line x1="314.0" y1="78.3" x2="318.4" y2="78.3" stroke="#111" stroke-width="0.95"/>
<line x1="309.4" y1="70.3" x2="323.0" y2="70.3" stroke="#111" stroke-width="1.15"/>
<line x1="349.9" y1="56.4" x2="349.9" y2="77.7" stroke="#111" stroke-width="0.95"/>
<line x1="347.7" y1="56.4" x2="352.09999999999997" y2="56.4" stroke="#111" stroke-width="0.95"/>
<line x1="347.7" y1="77.7" x2="352.09999999999997" y2="77.7" stroke="#111" stroke-width="0.95"/>
<line x1="343.09999999999997" y1="70.5" x2="356.7" y2="70.5" stroke="#111" stroke-width="1.15"/>
<line x1="370.4" y1="58.4" x2="370.4" y2="76.7" stroke="#111" stroke-width="0.95"/>
<line x1="368.2" y1="58.4" x2="372.59999999999997" y2="58.4" stroke="#111" stroke-width="0.95"/>
<line x1="368.2" y1="76.7" x2="372.59999999999997" y2="76.7" stroke="#111" stroke-width="0.95"/>
<line x1="363.59999999999997" y1="70.5" x2="377.2" y2="70.5" stroke="#111" stroke-width="1.15"/>
<line x1="404.0" y1="60.2" x2="404.0" y2="77.9" stroke="#111" stroke-width="0.95"/>
<line x1="401.8" y1="60.2" x2="406.2" y2="60.2" stroke="#111" stroke-width="0.95"/>
<line x1="401.8" y1="77.9" x2="406.2" y2="77.9" stroke="#111" stroke-width="0.95"/>
<line x1="397.2" y1="71.3" x2="410.8" y2="71.3" stroke="#111" stroke-width="1.15"/>
<line x1="424.4" y1="51.8" x2="424.4" y2="70.4" stroke="#111" stroke-width="0.95"/>
<line x1="422.2" y1="70.4" x2="426.59999999999997" y2="70.4" stroke="#111" stroke-width="0.95"/>
<line x1="417.59999999999997" y1="63.3" x2="431.2" y2="63.3" stroke="#111" stroke-width="1.15"/>
<line x1="458.1" y1="57.5" x2="458.1" y2="78.4" stroke="#111" stroke-width="0.95"/>
<line x1="455.90000000000003" y1="57.5" x2="460.3" y2="57.5" stroke="#111" stroke-width="0.95"/>
<line x1="455.90000000000003" y1="78.4" x2="460.3" y2="78.4" stroke="#111" stroke-width="0.95"/>
<line x1="451.3" y1="68.2" x2="464.90000000000003" y2="68.2" stroke="#111" stroke-width="1.15"/>
<line x1="478.4" y1="52.6" x2="478.4" y2="78.6" stroke="#111" stroke-width="0.95"/>
<line x1="476.2" y1="78.6" x2="480.59999999999997" y2="78.6" stroke="#111" stroke-width="0.95"/>
<line x1="471.59999999999997" y1="73.8" x2="485.2" y2="73.8" stroke="#111" stroke-width="1.15"/>
<line x1="498.8" y1="64.1" x2="498.8" y2="77.1" stroke="#111" stroke-width="0.95"/>
<line x1="496.6" y1="64.1" x2="501.0" y2="64.1" stroke="#111" stroke-width="0.95"/>
<line x1="496.6" y1="77.1" x2="501.0" y2="77.1" stroke="#111" stroke-width="0.95"/>
<line x1="492.0" y1="71.3" x2="505.6" y2="71.3" stroke="#111" stroke-width="1.15"/>
<line x1="424.4" y1="43.0" x2="424.4" y2="45.6" stroke="#111" stroke-width="0.9"/>
<rect x="471.6" y="72.9" width="13.2" height="1.7" fill="#222"/>
<line x1="478.4" y1="44.6" x2="478.4" y2="45.6" stroke="#111" stroke-width="0.9"/>
<text x="316.30" y="34.80" font-size="5.0" text-anchor="middle" fill="#2a2a2a" stroke="#2a2a2a" stroke-width="0.040" >P=0.026</text>
<text x="370.20" y="34.80" font-size="5.0" text-anchor="middle" fill="#2a2a2a" stroke="#2a2a2a" stroke-width="0.040" >P=0.039</text>
<text x="424.20" y="34.80" font-size="5.0" text-anchor="middle" fill="#2a2a2a" stroke="#2a2a2a" stroke-width="0.040" >P=0.013</text>
<text x="457.40" y="34.80" font-size="5.0" text-anchor="middle" fill="#2a2a2a" stroke="#2a2a2a" stroke-width="0.040" >P=0.029</text>
<text x="288.90" y="89.30" font-size="6.1" text-anchor="start" fill="#1a1a1a" stroke="#1a1a1a" stroke-width="0.171" textLength="14.40" lengthAdjust="spacingAndGlyphs" >None</text>
<text x="307.00" y="89.30" font-size="6.1" text-anchor="start" fill="#1a1a1a" stroke="#1a1a1a" stroke-width="0.171" textLength="24.20" lengthAdjust="spacingAndGlyphs" >Mutation</text>
<text x="337.80" y="89.30" font-size="6.1" text-anchor="start" fill="#1a1a1a" stroke="#1a1a1a" stroke-width="0.171" textLength="24.60" lengthAdjust="spacingAndGlyphs" >0.02-0.10</text>
<text x="367.20" y="89.30" font-size="6.1" text-anchor="start" fill="#1a1a1a" stroke="#1a1a1a" stroke-width="0.171" textLength="11.00" lengthAdjust="spacingAndGlyphs" >&gt;0.1</text>
<text x="404.00" y="89.30" font-size="6.1" text-anchor="middle" fill="#1a1a1a" stroke="#1a1a1a" stroke-width="0.171" >1</text>
<text x="420.80" y="89.30" font-size="6.1" text-anchor="start" fill="#1a1a1a" stroke="#1a1a1a" stroke-width="0.171" textLength="6.30" lengthAdjust="spacingAndGlyphs" >&gt;1</text>
<text x="451.70" y="89.30" font-size="6.1" text-anchor="start" fill="#1a1a1a" stroke="#1a1a1a" stroke-width="0.171" textLength="12.60" lengthAdjust="spacingAndGlyphs" >TET2</text>
<text x="469.10" y="89.30" font-size="6.1" text-anchor="start" fill="#1a1a1a" stroke="#1a1a1a" stroke-width="0.171" textLength="24.80" lengthAdjust="spacingAndGlyphs" >DNMT3A</text>
<text x="496.60" y="89.30" font-size="6.1" text-anchor="start" fill="#1a1a1a" stroke="#1a1a1a" stroke-width="0.171" textLength="16.00" lengthAdjust="spacingAndGlyphs" >Other</text>
<line x1="291.3" y1="93.5" x2="321.1" y2="93.5" stroke="#222" stroke-width="1.1"/>
<line x1="345.1" y1="93.5" x2="375.3" y2="93.5" stroke="#222" stroke-width="1.1"/>
<line x1="397.3" y1="93.5" x2="430.9" y2="93.5" stroke="#222" stroke-width="1.1"/>
<line x1="451.4" y1="93.5" x2="505.2" y2="93.5" stroke="#222" stroke-width="1.1"/>
<text x="302.30" y="102.70" font-size="6.6" text-anchor="start" fill="#1a1a1a" stroke="#1a1a1a" stroke-width="0.185" textLength="7.30" lengthAdjust="spacingAndGlyphs" >CH</text>
<text x="352.30" y="102.70" font-size="6.6" text-anchor="start" fill="#1a1a1a" stroke="#1a1a1a" stroke-width="0.185" textLength="7.20" lengthAdjust="spacingAndGlyphs" >CH</text>
<text x="361.40" y="103.90" font-size="3.6" text-anchor="start" fill="#1a1a1a" stroke="#1a1a1a" stroke-width="0.101" textLength="5.80" lengthAdjust="spacingAndGlyphs" >VAF</text>
<text x="406.20" y="102.70" font-size="6.6" text-anchor="start" fill="#1a1a1a" stroke="#1a1a1a" stroke-width="0.185" textLength="7.40" lengthAdjust="spacingAndGlyphs" >CH</text>
<text x="414.30" y="103.90" font-size="3.6" text-anchor="start" fill="#1a1a1a" stroke="#1a1a1a" stroke-width="0.101" textLength="7.70" lengthAdjust="spacingAndGlyphs" >mut</text>
<text x="469.80" y="102.70" font-size="6.6" text-anchor="start" fill="#1a1a1a" stroke="#1a1a1a" stroke-width="0.185" textLength="7.00" lengthAdjust="spacingAndGlyphs" >CH</text>
<text x="477.50" y="103.90" font-size="3.6" text-anchor="start" fill="#1a1a1a" stroke="#1a1a1a" stroke-width="0.101" textLength="9.20" lengthAdjust="spacingAndGlyphs" >gene</text>
<text x="390.80" y="129.30" font-size="8.6" text-anchor="start" fill="#1a1a1a" stroke="#1a1a1a" stroke-width="0.241" textLength="13.20" lengthAdjust="spacingAndGlyphs" >IL-8</text>
<text transform="translate(250.20,162.00) rotate(-90)" font-size="8.4" text-anchor="middle" fill="#1a1a1a" stroke="#1a1a1a" stroke-width="0.185" textLength="32.60" lengthAdjust="spacingAndGlyphs">Min-max</text>
<text transform="translate(259.60,162.00) rotate(-90)" font-size="8.4" text-anchor="middle" fill="#1a1a1a" stroke="#1a1a1a" stroke-width="0.185" textLength="61.00" lengthAdjust="spacingAndGlyphs">normalized level</text>
<line x1="279.5" y1="180.0" x2="512" y2="180.0" stroke="#6a6a6a" stroke-width="0.8" stroke-dasharray="2.4 0.7"/>
<circle cx="289.7" cy="145.5" r="0.95" fill="#1f447b"/>
<circle cx="290.8" cy="146.0" r="0.95" fill="#1f447b"/>
<circle cx="292.0" cy="146.4" r="0.95" fill="#1f447b"/>
<circle cx="293.1" cy="146.7" r="0.95" fill="#1f447b"/>
<circle cx="294.3" cy="146.9" r="0.95" fill="#1f447b"/>
<circle cx="295.4" cy="147.0" r="0.95" fill="#1f447b"/>
<circle cx="296.6" cy="147.0" r="0.95" fill="#1f447b"/>
<circle cx="297.7" cy="146.9" r="0.95" fill="#1f447b"/>
<circle cx="298.9" cy="146.7" r="0.95" fill="#1f447b"/>
<circle cx="300.0" cy="146.4" r="0.95" fill="#1f447b"/>
<circle cx="301.2" cy="146.0" r="0.95" fill="#1f447b"/>
<circle cx="302.3" cy="145.5" r="0.95" fill="#1f447b"/>
<circle cx="290.0" cy="148.4" r="0.95" fill="#1f447b"/>
<circle cx="291.2" cy="148.7" r="0.95" fill="#1f447b"/>
<circle cx="292.4" cy="148.9" r="0.95" fill="#1f447b"/>
<circle cx="293.6" cy="149.1" r="0.95" fill="#1f447b"/>
<circle cx="294.8" cy="149.2" r="0.95" fill="#1f447b"/>
<circle cx="296.0" cy="149.2" r="0.95" fill="#1f447b"/>
<circle cx="297.2" cy="149.2" r="0.95" fill="#1f447b"/>
<circle cx="298.4" cy="149.1" r="0.95" fill="#1f447b"/>
<circle cx="299.6" cy="148.9" r="0.95" fill="#1f447b"/>
<circle cx="300.8" cy="148.7" r="0.95" fill="#1f447b"/>
<circle cx="302.0" cy="148.4" r="0.95" fill="#1f447b"/>
<circle cx="293.0" cy="159.4" r="0.95" fill="#1f447b"/>
<circle cx="295.0" cy="160.4" r="0.95" fill="#1f447b"/>
<circle cx="298.0" cy="159.8" r="0.95" fill="#1f447b"/>
<circle cx="300.0" cy="160.8" r="0.95" fill="#1f447b"/>
<circle cx="290.0" cy="162.6" r="0.95" fill="#1f447b"/>
<circle cx="291.7" cy="163.0" r="0.95" fill="#1f447b"/>
<circle cx="293.4" cy="163.3" r="0.95" fill="#1f447b"/>
<circle cx="295.1" cy="163.5" r="0.95" fill="#1f447b"/>
<circle cx="296.9" cy="163.5" r="0.95" fill="#1f447b"/>
<circle cx="298.6" cy="163.3" r="0.95" fill="#1f447b"/>
<circle cx="300.3" cy="163.0" r="0.95" fill="#1f447b"/>
<circle cx="302.0" cy="162.6" r="0.95" fill="#1f447b"/>
<circle cx="292.0" cy="165.0" r="0.95" fill="#1f447b"/>
<circle cx="294.0" cy="166.0" r="0.95" fill="#1f447b"/>
<circle cx="296.0" cy="165.5" r="0.95" fill="#1f447b"/>
<circle cx="298.0" cy="166.0" r="0.95" fill="#1f447b"/>
<circle cx="300.0" cy="165.0" r="0.95" fill="#1f447b"/>
<circle cx="293.0" cy="167.5" r="0.95" fill="#1f447b"/>
<circle cx="295.5" cy="168.5" r="0.95" fill="#1f447b"/>
<circle cx="297.0" cy="168.0" r="0.95" fill="#1f447b"/>
<circle cx="299.0" cy="167.5" r="0.95" fill="#1f447b"/>
<path d="M290.2 169.7Q296.0 170.7 301.8 169.7" stroke="#1f447b" stroke-width="1.1" fill="none" stroke-linecap="round"/>
<path d="M290.2 171.6Q296.0 172.6 301.8 171.6" stroke="#1f447b" stroke-width="1.1" fill="none" stroke-linecap="round"/>
<path d="M290.2 173.6Q296.0 174.6 301.8 173.6" stroke="#1f447b" stroke-width="1.1" fill="none" stroke-linecap="round"/>
<path d="M290.2 175.5Q296.0 176.5 301.8 175.5" stroke="#1f447b" stroke-width="1.1" fill="none" stroke-linecap="round"/>
<path d="M290.2 177.5Q296.0 178.5 301.8 177.5" stroke="#1f447b" stroke-width="1.1" fill="none" stroke-linecap="round"/>
<path d="M290.2 179.4Q296.0 180.4 301.8 179.4" stroke="#1f447b" stroke-width="1.1" fill="none" stroke-linecap="round"/>
<path d="M290.6 181.5Q296.0 182.7 301.4 181.5" stroke="#1f447b" stroke-width="1.1" fill="none" stroke-linecap="round"/>
<path d="M291.6 183.2Q296.0 184.6 300.4 183.2" stroke="#1f447b" stroke-width="1.1" fill="none" stroke-linecap="round"/>
<circle cx="310.9" cy="146.5" r="0.95" fill="#4fa434"/>
<circle cx="313.8" cy="146.3" r="0.95" fill="#4fa434"/>
<circle cx="316.0" cy="146.0" r="0.95" fill="#4fa434"/>
<circle cx="318.1" cy="146.0" r="0.95" fill="#4fa434"/>
<circle cx="320.2" cy="145.6" r="0.95" fill="#4fa434"/>
<circle cx="310.3" cy="148.8" r="0.95" fill="#4fa434"/>
<circle cx="313.1" cy="149.2" r="0.95" fill="#4fa434"/>
<circle cx="315.3" cy="149.4" r="0.95" fill="#4fa434"/>
<circle cx="317.4" cy="149.4" r="0.95" fill="#4fa434"/>
<circle cx="319.5" cy="149.1" r="0.95" fill="#4fa434"/>
<circle cx="322.4" cy="148.8" r="0.95" fill="#4fa434"/>
<circle cx="313.8" cy="159.1" r="0.95" fill="#4fa434"/>
<circle cx="316.7" cy="159.8" r="0.95" fill="#4fa434"/>
<circle cx="318.8" cy="159.1" r="0.95" fill="#4fa434"/>
<circle cx="313.8" cy="163.3" r="0.95" fill="#4fa434"/>
<circle cx="315.9" cy="163.9" r="0.95" fill="#4fa434"/>
<circle cx="318.8" cy="163.3" r="0.95" fill="#4fa434"/>
<circle cx="311.7" cy="169.0" r="0.95" fill="#4fa434"/>
<circle cx="320.2" cy="168.4" r="0.95" fill="#4fa434"/>
<circle cx="313.1" cy="171.2" r="0.95" fill="#4fa434"/>
<circle cx="318.8" cy="171.9" r="0.95" fill="#4fa434"/>
<circle cx="314.5" cy="174.0" r="0.95" fill="#4fa434"/>
<circle cx="320.2" cy="174.0" r="0.95" fill="#4fa434"/>
<circle cx="311.7" cy="176.1" r="0.95" fill="#4fa434"/>
<circle cx="319.5" cy="176.1" r="0.95" fill="#4fa434"/>
<circle cx="320.5" cy="179.7" r="0.95" fill="#4fa434"/>
<circle cx="313.9" cy="180.0" r="0.95" fill="#4fa434"/>
<circle cx="310.8" cy="180.2" r="0.95" fill="#4fa434"/>
<circle cx="315.8" cy="180.4" r="0.95" fill="#4fa434"/>
<circle cx="322.3" cy="180.7" r="0.95" fill="#4fa434"/>
<circle cx="317.8" cy="181.3" r="0.95" fill="#4fa434"/>
<circle cx="319.7" cy="181.5" r="0.95" fill="#4fa434"/>
<circle cx="313.3" cy="181.9" r="0.95" fill="#4fa434"/>
<circle cx="311.0" cy="182.1" r="0.95" fill="#4fa434"/>
<circle cx="322.0" cy="182.8" r="0.95" fill="#4fa434"/>
<circle cx="316.9" cy="182.9" r="0.95" fill="#4fa434"/>
<circle cx="315.2" cy="183.0" r="0.95" fill="#4fa434"/>
<circle cx="321.3" cy="183.1" r="0.95" fill="#4fa434"/>
<circle cx="319.2" cy="183.2" r="0.95" fill="#4fa434"/>
<circle cx="314.5" cy="183.2" r="0.95" fill="#4fa434"/>
<circle cx="310.1" cy="183.6" r="0.95" fill="#4fa434"/>
<circle cx="318.0" cy="183.6" r="0.95" fill="#4fa434"/>
<circle cx="312.8" cy="183.7" r="0.95" fill="#4fa434"/>
<circle cx="313.4" cy="183.7" r="0.95" fill="#4fa434"/>
<circle cx="318.2" cy="183.8" r="0.95" fill="#4fa434"/>
<circle cx="321.8" cy="184.2" r="0.95" fill="#4fa434"/>
<circle cx="311.8" cy="184.3" r="0.95" fill="#4fa434"/>
<circle cx="316.4" cy="184.7" r="0.95" fill="#4fa434"/>
<circle cx="316.4" cy="184.7" r="0.95" fill="#4fa434"/>
<circle cx="320.0" cy="184.8" r="0.95" fill="#4fa434"/>
<circle cx="311.4" cy="184.8" r="0.95" fill="#4fa434"/>
<circle cx="348.5" cy="148.0" r="0.95" fill="#4fa434"/>
<circle cx="350.7" cy="147.0" r="0.95" fill="#4fa434"/>
<circle cx="352.1" cy="148.4" r="0.95" fill="#4fa434"/>
<circle cx="350.0" cy="149.4" r="0.95" fill="#4fa434"/>
<circle cx="348.5" cy="159.4" r="0.95" fill="#4fa434"/>
<circle cx="351.4" cy="160.2" r="0.95" fill="#4fa434"/>
<circle cx="349.2" cy="163.6" r="0.95" fill="#4fa434"/>
<circle cx="351.1" cy="163.3" r="0.95" fill="#4fa434"/>
<circle cx="346.3" cy="170.4" r="0.95" fill="#4fa434"/>
<circle cx="353.4" cy="169.7" r="0.95" fill="#4fa434"/>
<circle cx="348.5" cy="172.3" r="0.95" fill="#4fa434"/>
<circle cx="352.1" cy="173.0" r="0.95" fill="#4fa434"/>
<circle cx="347.8" cy="174.0" r="0.95" fill="#4fa434"/>
<circle cx="346.8" cy="179.7" r="0.95" fill="#4fa434"/>
<circle cx="353.2" cy="179.7" r="0.95" fill="#4fa434"/>
<circle cx="344.1" cy="182.2" r="0.95" fill="#4fa434"/>
<circle cx="345.8" cy="182.9" r="0.95" fill="#4fa434"/>
<circle cx="347.4" cy="183.3" r="0.95" fill="#4fa434"/>
<circle cx="349.1" cy="183.6" r="0.95" fill="#4fa434"/>
<circle cx="350.7" cy="183.6" r="0.95" fill="#4fa434"/>
<circle cx="352.4" cy="183.3" r="0.95" fill="#4fa434"/>
<circle cx="354.0" cy="182.9" r="0.95" fill="#4fa434"/>
<circle cx="355.7" cy="182.2" r="0.95" fill="#4fa434"/>
<circle cx="350.0" cy="181.3" r="0.95" fill="#4fa434"/>
<circle cx="346.9" cy="182.1" r="0.95" fill="#4fa434"/>
<circle cx="349.3" cy="181.6" r="0.95" fill="#4fa434"/>
<circle cx="349.0" cy="182.1" r="0.95" fill="#4fa434"/>
<circle cx="346.5" cy="181.1" r="0.95" fill="#4fa434"/>
<circle cx="368.5" cy="148.0" r="0.95" fill="#4fa434"/>
<circle cx="371.6" cy="146.3" r="0.95" fill="#4fa434"/>
<circle cx="369.9" cy="149.8" r="0.95" fill="#4fa434"/>
<circle cx="373.4" cy="148.8" r="0.95" fill="#4fa434"/>
<circle cx="370.7" cy="159.1" r="0.95" fill="#4fa434"/>
<circle cx="369.6" cy="164.0" r="0.95" fill="#4fa434"/>
<circle cx="371.0" cy="171.9" r="0.95" fill="#4fa434"/>
<circle cx="369.6" cy="174.7" r="0.95" fill="#4fa434"/>
<circle cx="364.1" cy="180.4" r="0.95" fill="#4fa434"/>
<circle cx="365.7" cy="181.4" r="0.95" fill="#4fa434"/>
<circle cx="367.2" cy="182.0" r="0.95" fill="#4fa434"/>
<circle cx="368.8" cy="182.5" r="0.95" fill="#4fa434"/>
<circle cx="370.4" cy="182.6" r="0.95" fill="#4fa434"/>
<circle cx="372.0" cy="182.5" r="0.95" fill="#4fa434"/>
<circle cx="373.5" cy="182.0" r="0.95" fill="#4fa434"/>
<circle cx="375.1" cy="181.4" r="0.95" fill="#4fa434"/>
<circle cx="376.7" cy="180.4" r="0.95" fill="#4fa434"/>
<circle cx="365.9" cy="183.2" r="0.95" fill="#4fa434"/>
<circle cx="367.7" cy="183.7" r="0.95" fill="#4fa434"/>
<circle cx="369.5" cy="184.0" r="0.95" fill="#4fa434"/>
<circle cx="371.3" cy="184.0" r="0.95" fill="#4fa434"/>
<circle cx="373.1" cy="183.7" r="0.95" fill="#4fa434"/>
<circle cx="374.9" cy="183.2" r="0.95" fill="#4fa434"/>
<circle cx="371.7" cy="181.7" r="0.95" fill="#4fa434"/>
<circle cx="370.7" cy="182.5" r="0.95" fill="#4fa434"/>
<circle cx="371.5" cy="182.5" r="0.95" fill="#4fa434"/>
<circle cx="367.7" cy="182.1" r="0.95" fill="#4fa434"/>
<circle cx="402.5" cy="147.4" r="0.95" fill="#4fa434"/>
<circle cx="404.6" cy="147.0" r="0.95" fill="#4fa434"/>
<circle cx="406.1" cy="147.4" r="0.95" fill="#4fa434"/>
<circle cx="398.3" cy="148.4" r="0.95" fill="#4fa434"/>
<circle cx="400.4" cy="149.1" r="0.95" fill="#4fa434"/>
<circle cx="402.5" cy="149.4" r="0.95" fill="#4fa434"/>
<circle cx="404.6" cy="149.4" r="0.95" fill="#4fa434"/>
<circle cx="406.8" cy="149.1" r="0.95" fill="#4fa434"/>
<circle cx="408.9" cy="148.8" r="0.95" fill="#4fa434"/>
<circle cx="410.3" cy="148.4" r="0.95" fill="#4fa434"/>
<circle cx="402.5" cy="159.8" r="0.95" fill="#4fa434"/>
<circle cx="405.4" cy="159.4" r="0.95" fill="#4fa434"/>
<circle cx="401.8" cy="163.5" r="0.95" fill="#4fa434"/>
<circle cx="404.6" cy="163.8" r="0.95" fill="#4fa434"/>
<circle cx="406.8" cy="163.2" r="0.95" fill="#4fa434"/>
<circle cx="402.5" cy="165.5" r="0.95" fill="#4fa434"/>
<circle cx="404.6" cy="166.2" r="0.95" fill="#4fa434"/>
<circle cx="400.4" cy="169.0" r="0.95" fill="#4fa434"/>
<circle cx="408.2" cy="169.7" r="0.95" fill="#4fa434"/>
<circle cx="401.1" cy="171.9" r="0.95" fill="#4fa434"/>
<circle cx="406.8" cy="171.2" r="0.95" fill="#4fa434"/>
<circle cx="404.0" cy="173.3" r="0.95" fill="#4fa434"/>
<circle cx="408.2" cy="173.3" r="0.95" fill="#4fa434"/>
<circle cx="399.7" cy="176.0" r="0.95" fill="#4fa434"/>
<circle cx="408.2" cy="176.0" r="0.95" fill="#4fa434"/>
<circle cx="398.6" cy="179.8" r="0.95" fill="#4fa434"/>
<circle cx="404.7" cy="180.8" r="0.95" fill="#4fa434"/>
<circle cx="400.0" cy="181.0" r="0.95" fill="#4fa434"/>
<circle cx="408.3" cy="181.1" r="0.95" fill="#4fa434"/>
<circle cx="410.2" cy="181.1" r="0.95" fill="#4fa434"/>
<circle cx="401.8" cy="181.5" r="0.95" fill="#4fa434"/>
<circle cx="397.9" cy="181.6" r="0.95" fill="#4fa434"/>
<circle cx="406.5" cy="181.7" r="0.95" fill="#4fa434"/>
<circle cx="402.8" cy="181.8" r="0.95" fill="#4fa434"/>
<circle cx="400.9" cy="182.0" r="0.95" fill="#4fa434"/>
<circle cx="397.9" cy="182.3" r="0.95" fill="#4fa434"/>
<circle cx="403.3" cy="182.3" r="0.95" fill="#4fa434"/>
<circle cx="405.0" cy="182.7" r="0.95" fill="#4fa434"/>
<circle cx="409.7" cy="182.8" r="0.95" fill="#4fa434"/>
<circle cx="407.6" cy="183.1" r="0.95" fill="#4fa434"/>
<circle cx="408.3" cy="183.1" r="0.95" fill="#4fa434"/>
<circle cx="398.6" cy="183.8" r="0.95" fill="#4fa434"/>
<circle cx="400.4" cy="183.8" r="0.95" fill="#4fa434"/>
<circle cx="402.3" cy="183.8" r="0.95" fill="#4fa434"/>
<circle cx="406.6" cy="183.9" r="0.95" fill="#4fa434"/>
<circle cx="404.9" cy="184.1" r="0.95" fill="#4fa434"/>
<circle cx="408.1" cy="184.2" r="0.95" fill="#4fa434"/>
<circle cx="409.2" cy="184.2" r="0.95" fill="#4fa434"/>
<circle cx="401.2" cy="184.3" r="0.95" fill="#4fa434"/>
<circle cx="403.6" cy="184.5" r="0.95" fill="#4fa434"/>
<circle cx="406.6" cy="184.5" r="0.95" fill="#4fa434"/>
<circle cx="402.8" cy="184.5" r="0.95" fill="#4fa434"/>
<circle cx="404.1" cy="184.6" r="0.95" fill="#4fa434"/>
<circle cx="409.1" cy="184.7" r="0.95" fill="#4fa434"/>
<circle cx="400.2" cy="184.8" r="0.95" fill="#4fa434"/>
<circle cx="423.2" cy="147.4" r="0.95" fill="#4fa434"/>
<circle cx="425.6" cy="146.6" r="0.95" fill="#4fa434"/>
<circle cx="423.9" cy="148.4" r="0.95" fill="#4fa434"/>
<circle cx="424.4" cy="159.1" r="0.95" fill="#4fa434"/>
<circle cx="424.4" cy="171.2" r="0.95" fill="#4fa434"/>
<circle cx="423.2" cy="176.9" r="0.95" fill="#4fa434"/>
<circle cx="425.6" cy="179.7" r="0.95" fill="#4fa434"/>
<circle cx="423.2" cy="183.3" r="0.95" fill="#4fa434"/>
<circle cx="425.6" cy="183.3" r="0.95" fill="#4fa434"/>
<circle cx="455.8" cy="147.4" r="0.95" fill="#4fa434"/>
<circle cx="458.3" cy="148.4" r="0.95" fill="#4fa434"/>
<circle cx="460.8" cy="146.3" r="0.95" fill="#4fa434"/>
<circle cx="455.8" cy="159.1" r="0.95" fill="#4fa434"/>
<circle cx="458.3" cy="159.8" r="0.95" fill="#4fa434"/>
<circle cx="460.8" cy="159.4" r="0.95" fill="#4fa434"/>
<circle cx="456.5" cy="170.5" r="0.95" fill="#4fa434"/>
<circle cx="461.6" cy="171.2" r="0.95" fill="#4fa434"/>
<circle cx="455.8" cy="172.6" r="0.95" fill="#4fa434"/>
<circle cx="460.1" cy="172.6" r="0.95" fill="#4fa434"/>
<circle cx="453.8" cy="178.3" r="0.95" fill="#4fa434"/>
<circle cx="461.0" cy="178.3" r="0.95" fill="#4fa434"/>
<circle cx="460.5" cy="181.3" r="0.95" fill="#4fa434"/>
<circle cx="457.9" cy="182.1" r="0.95" fill="#4fa434"/>
<circle cx="464.3" cy="182.1" r="0.95" fill="#4fa434"/>
<circle cx="462.4" cy="182.3" r="0.95" fill="#4fa434"/>
<circle cx="455.8" cy="182.7" r="0.95" fill="#4fa434"/>
<circle cx="452.5" cy="183.0" r="0.95" fill="#4fa434"/>
<circle cx="459.3" cy="183.2" r="0.95" fill="#4fa434"/>
<circle cx="463.8" cy="183.3" r="0.95" fill="#4fa434"/>
<circle cx="454.3" cy="183.4" r="0.95" fill="#4fa434"/>
<circle cx="456.5" cy="183.4" r="0.95" fill="#4fa434"/>
<circle cx="461.3" cy="183.6" r="0.95" fill="#4fa434"/>
<circle cx="459.3" cy="183.7" r="0.95" fill="#4fa434"/>
<circle cx="460.5" cy="183.7" r="0.95" fill="#4fa434"/>
<circle cx="457.6" cy="183.8" r="0.95" fill="#4fa434"/>
<circle cx="460.4" cy="183.9" r="0.95" fill="#4fa434"/>
<circle cx="456.8" cy="183.9" r="0.95" fill="#4fa434"/>
<circle cx="455.6" cy="184.0" r="0.95" fill="#4fa434"/>
<circle cx="462.7" cy="184.7" r="0.95" fill="#4fa434"/>
<circle cx="476.1" cy="147.0" r="0.95" fill="#4fa434"/>
<circle cx="478.6" cy="146.3" r="0.95" fill="#4fa434"/>
<circle cx="481.0" cy="147.4" r="0.95" fill="#4fa434"/>
<circle cx="478.3" cy="149.4" r="0.95" fill="#4fa434"/>
<circle cx="477.3" cy="166.2" r="0.95" fill="#4fa434"/>
<circle cx="476.2" cy="168.5" r="0.95" fill="#4fa434"/>
<circle cx="480.4" cy="169.1" r="0.95" fill="#4fa434"/>
<circle cx="476.9" cy="171.2" r="0.95" fill="#4fa434"/>
<circle cx="479.6" cy="171.9" r="0.95" fill="#4fa434"/>
<circle cx="481.0" cy="174.0" r="0.95" fill="#4fa434"/>
<circle cx="474.0" cy="178.3" r="0.95" fill="#4fa434"/>
<circle cx="482.5" cy="178.3" r="0.95" fill="#4fa434"/>
<circle cx="476.2" cy="180.5" r="0.95" fill="#4fa434"/>
<circle cx="476.2" cy="183.3" r="0.95" fill="#4fa434"/>
<circle cx="479.6" cy="184.0" r="0.95" fill="#4fa434"/>
<circle cx="483.0" cy="183.3" r="0.95" fill="#4fa434"/>
<circle cx="475.2" cy="181.7" r="0.95" fill="#4fa434"/>
<circle cx="473.5" cy="181.0" r="0.95" fill="#4fa434"/>
<circle cx="477.1" cy="179.7" r="0.95" fill="#4fa434"/>
<circle cx="477.0" cy="180.6" r="0.95" fill="#4fa434"/>
<circle cx="478.4" cy="180.5" r="0.95" fill="#4fa434"/>
<circle cx="474.3" cy="180.9" r="0.95" fill="#4fa434"/>
<circle cx="478.1" cy="180.1" r="0.95" fill="#4fa434"/>
<circle cx="480.4" cy="180.3" r="0.95" fill="#4fa434"/>
<circle cx="495.0" cy="149.1" r="0.95" fill="#4fa434"/>
<circle cx="497.1" cy="149.8" r="0.95" fill="#4fa434"/>
<circle cx="499.3" cy="149.4" r="0.95" fill="#4fa434"/>
<circle cx="502.4" cy="148.4" r="0.95" fill="#4fa434"/>
<circle cx="497.1" cy="163.4" r="0.95" fill="#4fa434"/>
<circle cx="500.7" cy="164.0" r="0.95" fill="#4fa434"/>
<circle cx="498.6" cy="167.0" r="0.95" fill="#4fa434"/>
<circle cx="496.4" cy="178.3" r="0.95" fill="#4fa434"/>
<circle cx="500.0" cy="178.3" r="0.95" fill="#4fa434"/>
<circle cx="495.0" cy="181.2" r="0.95" fill="#4fa434"/>
<circle cx="498.6" cy="181.9" r="0.95" fill="#4fa434"/>
<circle cx="502.1" cy="181.2" r="0.95" fill="#4fa434"/>
<line x1="282.4" y1="156.7" x2="282.4" y2="185.29999999999998" stroke="#111" stroke-width="1.15"/>
<line x1="282.4" y1="144.0" x2="282.4" y2="150.0" stroke="#111" stroke-width="1.15"/>
<line x1="279.3" y1="150.0" x2="286" y2="150.0" stroke="#111" stroke-width="1.1"/>
<line x1="279.3" y1="156.7" x2="286" y2="156.7" stroke="#111" stroke-width="1.1"/>
<line x1="282.4" y1="185.0" x2="512" y2="185.0" stroke="#1a1a1a" stroke-width="1.5"/>
<line x1="279.5" y1="144.6" x2="282.4" y2="144.6" stroke="#111" stroke-width="0.9"/>
<text x="277.00" y="146.30" font-size="5.9" text-anchor="end" fill="#1a1a1a" stroke="#1a1a1a" stroke-width="0.165" >100</text>
<text x="277.00" y="151.60" font-size="5.9" text-anchor="end" fill="#1a1a1a" stroke="#1a1a1a" stroke-width="0.165" >50</text>
<text x="277.00" y="158.80" font-size="5.9" text-anchor="end" fill="#1a1a1a" stroke="#1a1a1a" stroke-width="0.165" >30</text>
<line x1="279.5" y1="166.5" x2="282.4" y2="166.5" stroke="#111" stroke-width="0.9"/>
<text x="277.00" y="168.60" font-size="5.9" text-anchor="end" fill="#1a1a1a" stroke="#1a1a1a" stroke-width="0.165" >20</text>
<line x1="279.5" y1="175.2" x2="282.4" y2="175.2" stroke="#111" stroke-width="0.9"/>
<text x="277.00" y="177.30" font-size="5.9" text-anchor="end" fill="#1a1a1a" stroke="#1a1a1a" stroke-width="0.165" >10</text>
<line x1="279.5" y1="184.7" x2="282.4" y2="184.7" stroke="#111" stroke-width="0.9"/>
<text x="277.00" y="186.80" font-size="5.9" text-anchor="end" fill="#1a1a1a" stroke="#1a1a1a" stroke-width="0.165" >0</text>
<line x1="296.0" y1="171.9" x2="296.0" y2="183.2" stroke="#111" stroke-width="0.95"/>
<line x1="293.8" y1="171.9" x2="298.2" y2="171.9" stroke="#111" stroke-width="0.95"/>
<line x1="293.8" y1="183.2" x2="298.2" y2="183.2" stroke="#111" stroke-width="0.95"/>
<line x1="289.2" y1="179.6" x2="302.8" y2="179.6" stroke="#111" stroke-width="1.15"/>
<line x1="316.2" y1="166.5" x2="316.2" y2="183.0" stroke="#111" stroke-width="0.95"/>
<line x1="314.0" y1="166.5" x2="318.4" y2="166.5" stroke="#111" stroke-width="0.95"/>
<line x1="314.0" y1="183.0" x2="318.4" y2="183.0" stroke="#111" stroke-width="0.95"/>
<line x1="309.4" y1="178.6" x2="323.0" y2="178.6" stroke="#111" stroke-width="1.15"/>
<line x1="349.9" y1="166.5" x2="349.9" y2="183.0" stroke="#111" stroke-width="0.95"/>
<line x1="347.7" y1="166.5" x2="352.09999999999997" y2="166.5" stroke="#111" stroke-width="0.95"/>
<line x1="347.7" y1="183.0" x2="352.09999999999997" y2="183.0" stroke="#111" stroke-width="0.95"/>
<line x1="343.09999999999997" y1="176.9" x2="356.7" y2="176.9" stroke="#111" stroke-width="1.15"/>
<line x1="370.4" y1="166.9" x2="370.4" y2="183.0" stroke="#111" stroke-width="0.95"/>
<line x1="368.2" y1="166.9" x2="372.59999999999997" y2="166.9" stroke="#111" stroke-width="0.95"/>
<line x1="368.2" y1="183.0" x2="372.59999999999997" y2="183.0" stroke="#111" stroke-width="0.95"/>
<line x1="363.59999999999997" y1="178.7" x2="377.2" y2="178.7" stroke="#111" stroke-width="1.15"/>
<line x1="404.0" y1="168.3" x2="404.0" y2="183.0" stroke="#111" stroke-width="0.95"/>
<line x1="401.8" y1="168.3" x2="406.2" y2="168.3" stroke="#111" stroke-width="0.95"/>
<line x1="401.8" y1="183.0" x2="406.2" y2="183.0" stroke="#111" stroke-width="0.95"/>
<line x1="397.2" y1="178.3" x2="410.8" y2="178.3" stroke="#111" stroke-width="1.15"/>
<line x1="424.4" y1="156.2" x2="424.4" y2="184.0" stroke="#111" stroke-width="0.95"/>
<line x1="422.2" y1="184.0" x2="426.59999999999997" y2="184.0" stroke="#111" stroke-width="0.95"/>
<line x1="417.59999999999997" y1="174.0" x2="431.2" y2="174.0" stroke="#111" stroke-width="1.15"/>
<line x1="458.1" y1="170.5" x2="458.1" y2="183.4" stroke="#111" stroke-width="0.95"/>
<line x1="455.90000000000003" y1="170.5" x2="460.3" y2="170.5" stroke="#111" stroke-width="0.95"/>
<line x1="455.90000000000003" y1="183.4" x2="460.3" y2="183.4" stroke="#111" stroke-width="0.95"/>
<line x1="451.3" y1="180.5" x2="464.90000000000003" y2="180.5" stroke="#111" stroke-width="1.15"/>
<line x1="478.4" y1="168.8" x2="478.4" y2="183.4" stroke="#111" stroke-width="0.95"/>
<line x1="476.2" y1="168.8" x2="480.59999999999997" y2="168.8" stroke="#111" stroke-width="0.95"/>
<line x1="476.2" y1="183.4" x2="480.59999999999997" y2="183.4" stroke="#111" stroke-width="0.95"/>
<line x1="471.59999999999997" y1="177.2" x2="485.2" y2="177.2" stroke="#111" stroke-width="1.15"/>
<line x1="498.8" y1="159.4" x2="498.8" y2="183.3" stroke="#111" stroke-width="0.95"/>
<line x1="496.6" y1="159.4" x2="501.0" y2="159.4" stroke="#111" stroke-width="0.95"/>
<line x1="496.6" y1="183.3" x2="501.0" y2="183.3" stroke="#111" stroke-width="0.95"/>
<line x1="492.0" y1="174.5" x2="505.6" y2="174.5" stroke="#111" stroke-width="1.15"/>
<line x1="424.4" y1="147.2" x2="424.4" y2="150.0" stroke="#111" stroke-width="0.9"/>
<path d="M422.9 158.2L424.4 155.6L425.9 158.2Z" fill="#111"/>
<text x="316.20" y="138.60" font-size="5.0" text-anchor="middle" fill="#2a2a2a" stroke="#2a2a2a" stroke-width="0.040" >P=0.073</text>
<text x="404.30" y="138.60" font-size="5.0" text-anchor="middle" fill="#2a2a2a" stroke="#2a2a2a" stroke-width="0.040" >P=0.116</text>
<text x="425.80" y="138.60" font-size="5.0" text-anchor="middle" fill="#2a2a2a" stroke="#2a2a2a" stroke-width="0.040" >P=0.277</text>
<text x="478.40" y="138.60" font-size="5.0" text-anchor="middle" fill="#2a2a2a" stroke="#2a2a2a" stroke-width="0.040" >P=0.081</text>
<text x="501.60" y="138.60" font-size="5.0" text-anchor="middle" fill="#2a2a2a" stroke="#2a2a2a" stroke-width="0.040" >P=0.079</text>
<text x="288.90" y="194.00" font-size="6.1" text-anchor="start" fill="#1a1a1a" stroke="#1a1a1a" stroke-width="0.171" textLength="14.40" lengthAdjust="spacingAndGlyphs" >None</text>
<text x="307.00" y="194.00" font-size="6.1" text-anchor="start" fill="#1a1a1a" stroke="#1a1a1a" stroke-width="0.171" textLength="24.20" lengthAdjust="spacingAndGlyphs" >Mutation</text>
<text x="337.80" y="194.00" font-size="6.1" text-anchor="start" fill="#1a1a1a" stroke="#1a1a1a" stroke-width="0.171" textLength="24.60" lengthAdjust="spacingAndGlyphs" >0.02-0.10</text>
<text x="367.20" y="194.00" font-size="6.1" text-anchor="start" fill="#1a1a1a" stroke="#1a1a1a" stroke-width="0.171" textLength="11.00" lengthAdjust="spacingAndGlyphs" >&gt;0.1</text>
<text x="404.00" y="194.00" font-size="6.1" text-anchor="middle" fill="#1a1a1a" stroke="#1a1a1a" stroke-width="0.171" >1</text>
<text x="420.80" y="194.00" font-size="6.1" text-anchor="start" fill="#1a1a1a" stroke="#1a1a1a" stroke-width="0.171" textLength="6.30" lengthAdjust="spacingAndGlyphs" >&gt;1</text>
<text x="451.70" y="194.00" font-size="6.1" text-anchor="start" fill="#1a1a1a" stroke="#1a1a1a" stroke-width="0.171" textLength="12.60" lengthAdjust="spacingAndGlyphs" >TET2</text>
<text x="469.10" y="194.00" font-size="6.1" text-anchor="start" fill="#1a1a1a" stroke="#1a1a1a" stroke-width="0.171" textLength="24.80" lengthAdjust="spacingAndGlyphs" >DNMT3A</text>
<text x="496.60" y="194.00" font-size="6.1" text-anchor="start" fill="#1a1a1a" stroke="#1a1a1a" stroke-width="0.171" textLength="16.00" lengthAdjust="spacingAndGlyphs" >Other</text>
<line x1="291.3" y1="198.3" x2="321.1" y2="198.3" stroke="#222" stroke-width="1.1"/>
<line x1="345.1" y1="198.3" x2="375.3" y2="198.3" stroke="#222" stroke-width="1.1"/>
<line x1="397.3" y1="198.3" x2="430.9" y2="198.3" stroke="#222" stroke-width="1.1"/>
<line x1="451.4" y1="198.3" x2="505.2" y2="198.3" stroke="#222" stroke-width="1.1"/>
<text x="302.30" y="207.20" font-size="6.6" text-anchor="start" fill="#1a1a1a" stroke="#1a1a1a" stroke-width="0.185" textLength="7.30" lengthAdjust="spacingAndGlyphs" >CH</text>
<text x="352.30" y="207.20" font-size="6.6" text-anchor="start" fill="#1a1a1a" stroke="#1a1a1a" stroke-width="0.185" textLength="7.20" lengthAdjust="spacingAndGlyphs" >CH</text>
<text x="361.40" y="208.40" font-size="3.6" text-anchor="start" fill="#1a1a1a" stroke="#1a1a1a" stroke-width="0.101" textLength="5.80" lengthAdjust="spacingAndGlyphs" >VAF</text>
<text x="406.20" y="207.20" font-size="6.6" text-anchor="start" fill="#1a1a1a" stroke="#1a1a1a" stroke-width="0.185" textLength="7.40" lengthAdjust="spacingAndGlyphs" >CH</text>
<text x="414.30" y="208.40" font-size="3.6" text-anchor="start" fill="#1a1a1a" stroke="#1a1a1a" stroke-width="0.101" textLength="7.70" lengthAdjust="spacingAndGlyphs" >mut</text>
<text x="469.80" y="207.20" font-size="6.6" text-anchor="start" fill="#1a1a1a" stroke="#1a1a1a" stroke-width="0.185" textLength="7.00" lengthAdjust="spacingAndGlyphs" >CH</text>
<text x="477.50" y="208.40" font-size="3.6" text-anchor="start" fill="#1a1a1a" stroke="#1a1a1a" stroke-width="0.101" textLength="9.20" lengthAdjust="spacingAndGlyphs" >gene</text>
<text x="387.00" y="233.80" font-size="8.6" text-anchor="start" fill="#1a1a1a" stroke="#1a1a1a" stroke-width="0.241" ><tspan stroke-width="0.3" textLength="13.6" lengthAdjust="spacingAndGlyphs">TNF</tspan><tspan font-style="italic" font-family="Liberation Serif, serif" font-size="9" dx="1.0">α</tspan></text>
<text transform="translate(250.20,267.00) rotate(-90)" font-size="8.4" text-anchor="middle" fill="#1a1a1a" stroke="#1a1a1a" stroke-width="0.185" textLength="32.60" lengthAdjust="spacingAndGlyphs">Min-max</text>
<text transform="translate(259.60,267.00) rotate(-90)" font-size="8.4" text-anchor="middle" fill="#1a1a1a" stroke="#1a1a1a" stroke-width="0.185" textLength="61.00" lengthAdjust="spacingAndGlyphs">normalized level</text>
<line x1="279.5" y1="281.4" x2="512" y2="281.4" stroke="#6a6a6a" stroke-width="0.8" stroke-dasharray="2.4 0.7"/>
<circle cx="293.6" cy="251.4" r="0.95" fill="#1f447b"/>
<circle cx="296.0" cy="251.4" r="0.95" fill="#1f447b"/>
<circle cx="298.4" cy="251.4" r="0.95" fill="#1f447b"/>
<circle cx="297.2" cy="256.0" r="0.95" fill="#1f447b"/>
<circle cx="294.8" cy="257.3" r="0.95" fill="#1f447b"/>
<circle cx="295.9" cy="261.6" r="0.95" fill="#1f447b"/>
<circle cx="293.3" cy="264.0" r="0.95" fill="#1f447b"/>
<circle cx="295.1" cy="264.0" r="0.95" fill="#1f447b"/>
<circle cx="296.9" cy="264.0" r="0.95" fill="#1f447b"/>
<circle cx="298.7" cy="264.0" r="0.95" fill="#1f447b"/>
<circle cx="290.2" cy="266.3" r="0.95" fill="#1f447b"/>
<circle cx="291.9" cy="266.8" r="0.95" fill="#1f447b"/>
<circle cx="293.5" cy="267.1" r="0.95" fill="#1f447b"/>
<circle cx="295.2" cy="267.3" r="0.95" fill="#1f447b"/>
<circle cx="296.8" cy="267.3" r="0.95" fill="#1f447b"/>
<circle cx="298.5" cy="267.1" r="0.95" fill="#1f447b"/>
<circle cx="300.1" cy="266.8" r="0.95" fill="#1f447b"/>
<circle cx="301.8" cy="266.3" r="0.95" fill="#1f447b"/>
<path d="M289.8 268.6Q296.0 269.8 302.2 268.6" stroke="#1f447b" stroke-width="1.1" fill="none" stroke-linecap="round"/>
<path d="M289.8 270.5Q296.0 271.8 302.2 270.5" stroke="#1f447b" stroke-width="1.1" fill="none" stroke-linecap="round"/>
<path d="M289.8 272.5Q296.0 273.7 302.2 272.5" stroke="#1f447b" stroke-width="1.1" fill="none" stroke-linecap="round"/>
<path d="M289.8 274.4Q296.0 275.6 302.2 274.4" stroke="#1f447b" stroke-width="1.1" fill="none" stroke-linecap="round"/>
<path d="M289.8 276.4Q296.0 277.6 302.2 276.4" stroke="#1f447b" stroke-width="1.1" fill="none" stroke-linecap="round"/>
<path d="M289.8 278.3Q296.0 279.5 302.2 278.3" stroke="#1f447b" stroke-width="1.1" fill="none" stroke-linecap="round"/>
<path d="M289.8 280.3Q296.0 281.5 302.2 280.3" stroke="#1f447b" stroke-width="1.1" fill="none" stroke-linecap="round"/>
<path d="M289.8 282.2Q296.0 283.4 302.2 282.2" stroke="#1f447b" stroke-width="1.1" fill="none" stroke-linecap="round"/>
<path d="M289.8 284.2Q296.0 285.4 302.2 284.2" stroke="#1f447b" stroke-width="1.1" fill="none" stroke-linecap="round"/>
<path d="M290.4 286.5Q296.0 287.7 301.6 286.5" stroke="#1f447b" stroke-width="1.1" fill="none" stroke-linecap="round"/>
<path d="M291.4 288.2Q296.0 289.6 300.6 288.2" stroke="#1f447b" stroke-width="1.1" fill="none" stroke-linecap="round"/>
<circle cx="315.9" cy="251.2" r="0.95" fill="#4fa434"/>
<circle cx="314.6" cy="259.8" r="0.95" fill="#4fa434"/>
<circle cx="316.8" cy="261.0" r="0.95" fill="#4fa434"/>
<circle cx="319.0" cy="259.8" r="0.95" fill="#4fa434"/>
<circle cx="316.1" cy="265.2" r="0.95" fill="#4fa434"/>
<circle cx="314.1" cy="265.5" r="0.95" fill="#4fa434"/>
<circle cx="310.5" cy="265.6" r="0.95" fill="#4fa434"/>
<circle cx="320.9" cy="265.9" r="0.95" fill="#4fa434"/>
<circle cx="318.2" cy="266.5" r="0.95" fill="#4fa434"/>
<circle cx="312.4" cy="268.4" r="0.95" fill="#4fa434"/>
<circle cx="315.8" cy="268.6" r="0.95" fill="#4fa434"/>
<circle cx="317.6" cy="268.9" r="0.95" fill="#4fa434"/>
<circle cx="321.7" cy="269.0" r="0.95" fill="#4fa434"/>
<circle cx="319.5" cy="269.2" r="0.95" fill="#4fa434"/>
<circle cx="315.1" cy="270.5" r="0.95" fill="#4fa434"/>
<circle cx="320.2" cy="270.8" r="0.95" fill="#4fa434"/>
<circle cx="310.7" cy="272.0" r="0.95" fill="#4fa434"/>
<circle cx="316.3" cy="272.0" r="0.95" fill="#4fa434"/>
<circle cx="319.6" cy="275.0" r="0.95" fill="#4fa434"/>
<circle cx="316.7" cy="277.2" r="0.95" fill="#4fa434"/>
<circle cx="312.6" cy="277.4" r="0.95" fill="#4fa434"/>
<circle cx="310.3" cy="277.9" r="0.95" fill="#4fa434"/>
<circle cx="319.0" cy="278.4" r="0.95" fill="#4fa434"/>
<circle cx="321.2" cy="278.5" r="0.95" fill="#4fa434"/>
<circle cx="314.7" cy="278.6" r="0.95" fill="#4fa434"/>
<circle cx="312.8" cy="279.3" r="0.95" fill="#4fa434"/>
<circle cx="317.1" cy="279.6" r="0.95" fill="#4fa434"/>
<circle cx="311.1" cy="279.7" r="0.95" fill="#4fa434"/>
<circle cx="322.2" cy="280.0" r="0.95" fill="#4fa434"/>
<circle cx="318.8" cy="280.2" r="0.95" fill="#4fa434"/>
<circle cx="315.1" cy="280.4" r="0.95" fill="#4fa434"/>
<circle cx="311.8" cy="280.5" r="0.95" fill="#4fa434"/>
<circle cx="309.7" cy="280.9" r="0.95" fill="#4fa434"/>
<circle cx="317.1" cy="282.4" r="0.95" fill="#4fa434"/>
<circle cx="311.4" cy="282.4" r="0.95" fill="#4fa434"/>
<circle cx="313.1" cy="283.2" r="0.95" fill="#4fa434"/>
<circle cx="321.5" cy="283.2" r="0.95" fill="#4fa434"/>
<circle cx="315.0" cy="283.4" r="0.95" fill="#4fa434"/>
<circle cx="319.3" cy="283.5" r="0.95" fill="#4fa434"/>
<circle cx="311.8" cy="284.3" r="0.95" fill="#4fa434"/>
<circle cx="309.8" cy="284.4" r="0.95" fill="#4fa434"/>
<circle cx="316.4" cy="284.8" r="0.95" fill="#4fa434"/>
<circle cx="322.4" cy="285.2" r="0.95" fill="#4fa434"/>
<circle cx="320.4" cy="285.3" r="0.95" fill="#4fa434"/>
<circle cx="314.8" cy="285.4" r="0.95" fill="#4fa434"/>
<circle cx="310.8" cy="285.7" r="0.95" fill="#4fa434"/>
<circle cx="322.3" cy="287.4" r="0.95" fill="#4fa434"/>
<circle cx="314.9" cy="287.5" r="0.95" fill="#4fa434"/>
<circle cx="319.0" cy="288.3" r="0.95" fill="#4fa434"/>
<circle cx="312.8" cy="289.5" r="0.95" fill="#4fa434"/>
<circle cx="321.8" cy="289.5" r="0.95" fill="#4fa434"/>
<circle cx="309.7" cy="289.7" r="0.95" fill="#4fa434"/>
<circle cx="349.9" cy="259.5" r="0.95" fill="#4fa434"/>
<circle cx="349.9" cy="262.5" r="0.95" fill="#4fa434"/>
<circle cx="347.3" cy="267.5" r="0.95" fill="#4fa434"/>
<circle cx="350.2" cy="269.0" r="0.95" fill="#4fa434"/>
<circle cx="352.3" cy="268.3" r="0.95" fill="#4fa434"/>
<circle cx="350.8" cy="272.6" r="0.95" fill="#4fa434"/>
<circle cx="345.8" cy="274.1" r="0.95" fill="#4fa434"/>
<circle cx="354.5" cy="275.5" r="0.95" fill="#4fa434"/>
<circle cx="348.7" cy="276.3" r="0.95" fill="#4fa434"/>
<circle cx="352.3" cy="276.3" r="0.95" fill="#4fa434"/>
<circle cx="346.5" cy="277.7" r="0.95" fill="#4fa434"/>
<circle cx="345.1" cy="283.5" r="0.95" fill="#4fa434"/>
<circle cx="348.0" cy="284.3" r="0.95" fill="#4fa434"/>
<circle cx="350.9" cy="283.5" r="0.95" fill="#4fa434"/>
<circle cx="354.5" cy="284.3" r="0.95" fill="#4fa434"/>
<circle cx="346.5" cy="286.4" r="0.95" fill="#4fa434"/>
<circle cx="349.4" cy="287.2" r="0.95" fill="#4fa434"/>
<circle cx="352.3" cy="286.4" r="0.95" fill="#4fa434"/>
<circle cx="354.5" cy="285.7" r="0.95" fill="#4fa434"/>
<circle cx="348.0" cy="288.0" r="0.95" fill="#4fa434"/>
<circle cx="351.6" cy="288.0" r="0.95" fill="#4fa434"/>
<circle cx="370.5" cy="251.5" r="0.95" fill="#4fa434"/>
<circle cx="369.4" cy="261.0" r="0.95" fill="#4fa434"/>
<circle cx="371.6" cy="261.0" r="0.95" fill="#4fa434"/>
<circle cx="365.8" cy="268.9" r="0.95" fill="#4fa434"/>
<circle cx="368.7" cy="268.0" r="0.95" fill="#4fa434"/>
<circle cx="372.3" cy="267.3" r="0.95" fill="#4fa434"/>
<circle cx="374.5" cy="268.9" r="0.95" fill="#4fa434"/>
<circle cx="366.5" cy="272.6" r="0.95" fill="#4fa434"/>
<circle cx="375.2" cy="272.6" r="0.95" fill="#4fa434"/>
<circle cx="368.7" cy="274.1" r="0.95" fill="#4fa434"/>
<circle cx="371.6" cy="274.8" r="0.95" fill="#4fa434"/>
<circle cx="365.1" cy="279.9" r="0.95" fill="#4fa434"/>
<circle cx="367.3" cy="279.9" r="0.95" fill="#4fa434"/>
<circle cx="373.8" cy="279.9" r="0.95" fill="#4fa434"/>
<circle cx="376.0" cy="279.9" r="0.95" fill="#4fa434"/>
<circle cx="368.0" cy="283.5" r="0.95" fill="#4fa434"/>
<circle cx="370.2" cy="283.0" r="0.95" fill="#4fa434"/>
<circle cx="373.1" cy="283.5" r="0.95" fill="#4fa434"/>
<circle cx="368.7" cy="287.2" r="0.95" fill="#4fa434"/>
<circle cx="371.6" cy="288.6" r="0.95" fill="#4fa434"/>
<circle cx="366.0" cy="286.0" r="0.95" fill="#4fa434"/>
<circle cx="375.0" cy="286.5" r="0.95" fill="#4fa434"/>
<circle cx="404.0" cy="251.5" r="0.95" fill="#4fa434"/>
<circle cx="403.1" cy="260.3" r="0.95" fill="#4fa434"/>
<circle cx="404.6" cy="261.7" r="0.95" fill="#4fa434"/>
<circle cx="402.8" cy="266.6" r="0.95" fill="#4fa434"/>
<circle cx="404.5" cy="267.6" r="0.95" fill="#4fa434"/>
<circle cx="409.7" cy="267.7" r="0.95" fill="#4fa434"/>
<circle cx="400.3" cy="268.1" r="0.95" fill="#4fa434"/>
<circle cx="407.2" cy="268.5" r="0.95" fill="#4fa434"/>
<circle cx="403.1" cy="268.9" r="0.95" fill="#4fa434"/>
<circle cx="405.5" cy="269.1" r="0.95" fill="#4fa434"/>
<circle cx="408.9" cy="269.7" r="0.95" fill="#4fa434"/>
<circle cx="399.1" cy="270.2" r="0.95" fill="#4fa434"/>
<circle cx="404.2" cy="270.4" r="0.95" fill="#4fa434"/>
<circle cx="407.0" cy="270.5" r="0.95" fill="#4fa434"/>
<circle cx="401.6" cy="270.6" r="0.95" fill="#4fa434"/>
<circle cx="400.7" cy="270.7" r="0.95" fill="#4fa434"/>
<circle cx="401.7" cy="270.7" r="0.95" fill="#4fa434"/>
<circle cx="410.2" cy="271.0" r="0.95" fill="#4fa434"/>
<circle cx="408.5" cy="271.5" r="0.95" fill="#4fa434"/>
<circle cx="406.2" cy="272.3" r="0.95" fill="#4fa434"/>
<circle cx="403.4" cy="272.8" r="0.95" fill="#4fa434"/>
<circle cx="409.5" cy="273.1" r="0.95" fill="#4fa434"/>
<circle cx="407.1" cy="273.8" r="0.95" fill="#4fa434"/>
<circle cx="405.3" cy="274.1" r="0.95" fill="#4fa434"/>
<circle cx="398.5" cy="274.3" r="0.95" fill="#4fa434"/>
<circle cx="403.0" cy="275.0" r="0.95" fill="#4fa434"/>
<circle cx="401.2" cy="275.0" r="0.95" fill="#4fa434"/>
<circle cx="409.7" cy="275.8" r="0.95" fill="#4fa434"/>
<circle cx="401.4" cy="276.9" r="0.95" fill="#4fa434"/>
<circle cx="402.7" cy="278.3" r="0.95" fill="#4fa434"/>
<circle cx="408.1" cy="279.0" r="0.95" fill="#4fa434"/>
<circle cx="405.9" cy="279.1" r="0.95" fill="#4fa434"/>
<circle cx="410.3" cy="279.5" r="0.95" fill="#4fa434"/>
<circle cx="398.5" cy="280.8" r="0.95" fill="#4fa434"/>
<circle cx="403.5" cy="280.9" r="0.95" fill="#4fa434"/>
<circle cx="406.0" cy="281.6" r="0.95" fill="#4fa434"/>
<circle cx="400.4" cy="281.9" r="0.95" fill="#4fa434"/>
<circle cx="410.2" cy="282.0" r="0.95" fill="#4fa434"/>
<circle cx="402.4" cy="282.2" r="0.95" fill="#4fa434"/>
<circle cx="407.9" cy="282.2" r="0.95" fill="#4fa434"/>
<circle cx="408.4" cy="282.3" r="0.95" fill="#4fa434"/>
<circle cx="404.3" cy="282.7" r="0.95" fill="#4fa434"/>
<circle cx="397.8" cy="282.8" r="0.95" fill="#4fa434"/>
<circle cx="406.7" cy="283.3" r="0.95" fill="#4fa434"/>
<circle cx="403.1" cy="283.4" r="0.95" fill="#4fa434"/>
<circle cx="408.2" cy="284.3" r="0.95" fill="#4fa434"/>
<circle cx="398.5" cy="284.8" r="0.95" fill="#4fa434"/>
<circle cx="404.4" cy="285.0" r="0.95" fill="#4fa434"/>
<circle cx="400.5" cy="285.3" r="0.95" fill="#4fa434"/>
<circle cx="402.4" cy="285.7" r="0.95" fill="#4fa434"/>
<circle cx="407.1" cy="285.7" r="0.95" fill="#4fa434"/>
<circle cx="409.9" cy="285.7" r="0.95" fill="#4fa434"/>
<circle cx="405.8" cy="286.0" r="0.95" fill="#4fa434"/>
<circle cx="406.1" cy="286.3" r="0.95" fill="#4fa434"/>
<circle cx="404.6" cy="287.4" r="0.95" fill="#4fa434"/>
<circle cx="399.1" cy="287.8" r="0.95" fill="#4fa434"/>
<circle cx="401.6" cy="288.3" r="0.95" fill="#4fa434"/>
<circle cx="409.7" cy="288.3" r="0.95" fill="#4fa434"/>
<circle cx="406.2" cy="288.3" r="0.95" fill="#4fa434"/>
<circle cx="403.8" cy="288.9" r="0.95" fill="#4fa434"/>
<circle cx="408.1" cy="289.2" r="0.95" fill="#4fa434"/>
<circle cx="398.1" cy="289.2" r="0.95" fill="#4fa434"/>
<circle cx="400.2" cy="289.4" r="0.95" fill="#4fa434"/>
<circle cx="424.2" cy="261.0" r="0.95" fill="#4fa434"/>
<circle cx="426.0" cy="280.0" r="0.95" fill="#4fa434"/>
<circle cx="422.4" cy="283.5" r="0.95" fill="#4fa434"/>
<circle cx="425.3" cy="283.5" r="0.95" fill="#4fa434"/>
<circle cx="423.8" cy="285.7" r="0.95" fill="#4fa434"/>
<circle cx="455.6" cy="260.7" r="0.95" fill="#4fa434"/>
<circle cx="458.0" cy="262.2" r="0.95" fill="#4fa434"/>
<circle cx="460.2" cy="261.0" r="0.95" fill="#4fa434"/>
<circle cx="456.8" cy="267.6" r="0.95" fill="#4fa434"/>
<circle cx="459.4" cy="268.9" r="0.95" fill="#4fa434"/>
<circle cx="458.2" cy="269.7" r="0.95" fill="#4fa434"/>
<circle cx="456.8" cy="272.0" r="0.95" fill="#4fa434"/>
<circle cx="454.6" cy="275.5" r="0.95" fill="#4fa434"/>
<circle cx="461.2" cy="274.8" r="0.95" fill="#4fa434"/>
<circle cx="453.9" cy="277.8" r="0.95" fill="#4fa434"/>
<circle cx="461.9" cy="277.8" r="0.95" fill="#4fa434"/>
<circle cx="458.5" cy="278.5" r="0.95" fill="#4fa434"/>
<circle cx="453.2" cy="284.0" r="0.95" fill="#4fa434"/>
<circle cx="456.1" cy="284.0" r="0.95" fill="#4fa434"/>
<circle cx="459.7" cy="284.0" r="0.95" fill="#4fa434"/>
<circle cx="462.6" cy="284.0" r="0.95" fill="#4fa434"/>
<circle cx="455.3" cy="286.4" r="0.95" fill="#4fa434"/>
<circle cx="458.9" cy="286.4" r="0.95" fill="#4fa434"/>
<circle cx="457.5" cy="288.0" r="0.95" fill="#4fa434"/>
<circle cx="452.5" cy="281.5" r="0.95" fill="#4fa434"/>
<circle cx="463.5" cy="281.5" r="0.95" fill="#4fa434"/>
<circle cx="478.2" cy="251.5" r="0.95" fill="#4fa434"/>
<circle cx="478.2" cy="261.0" r="0.95" fill="#4fa434"/>
<circle cx="474.3" cy="268.3" r="0.95" fill="#4fa434"/>
<circle cx="477.9" cy="267.6" r="0.95" fill="#4fa434"/>
<circle cx="481.5" cy="268.3" r="0.95" fill="#4fa434"/>
<circle cx="475.7" cy="271.9" r="0.95" fill="#4fa434"/>
<circle cx="480.0" cy="272.6" r="0.95" fill="#4fa434"/>
<circle cx="474.9" cy="280.0" r="0.95" fill="#4fa434"/>
<circle cx="478.5" cy="279.3" r="0.95" fill="#4fa434"/>
<circle cx="481.5" cy="280.0" r="0.95" fill="#4fa434"/>
<circle cx="476.5" cy="282.0" r="0.95" fill="#4fa434"/>
<circle cx="479.3" cy="282.0" r="0.95" fill="#4fa434"/>
<circle cx="474.3" cy="286.4" r="0.95" fill="#4fa434"/>
<circle cx="477.2" cy="288.0" r="0.95" fill="#4fa434"/>
<circle cx="479.3" cy="288.0" r="0.95" fill="#4fa434"/>
<circle cx="482.2" cy="286.4" r="0.95" fill="#4fa434"/>
<circle cx="472.5" cy="283.5" r="0.95" fill="#4fa434"/>
<circle cx="484.0" cy="283.5" r="0.95" fill="#4fa434"/>
<circle cx="498.6" cy="259.8" r="0.95" fill="#4fa434"/>
<circle cx="498.6" cy="269.7" r="0.95" fill="#4fa434"/>
<circle cx="497.2" cy="273.4" r="0.95" fill="#4fa434"/>
<circle cx="500.7" cy="272.6" r="0.95" fill="#4fa434"/>
<circle cx="496.1" cy="282.0" r="0.95" fill="#4fa434"/>
<circle cx="500.0" cy="282.0" r="0.95" fill="#4fa434"/>
<circle cx="495.4" cy="284.0" r="0.95" fill="#4fa434"/>
<circle cx="498.6" cy="284.0" r="0.95" fill="#4fa434"/>
<circle cx="502.2" cy="284.5" r="0.95" fill="#4fa434"/>
<circle cx="498.6" cy="289.4" r="0.95" fill="#4fa434"/>
<line x1="282.4" y1="249.8" x2="282.4" y2="290.40000000000003" stroke="#111" stroke-width="1.15"/>
<line x1="282.4" y1="289.8" x2="512" y2="289.8" stroke="#1a1a1a" stroke-width="1.3"/>
<line x1="279.5" y1="251.3" x2="282.4" y2="251.3" stroke="#111" stroke-width="0.9"/>
<text x="277.00" y="253.40" font-size="5.9" text-anchor="end" fill="#1a1a1a" stroke="#1a1a1a" stroke-width="0.165" >100</text>
<line x1="279.5" y1="261.0" x2="282.4" y2="261.0" stroke="#111" stroke-width="0.9"/>
<text x="277.00" y="263.10" font-size="5.9" text-anchor="end" fill="#1a1a1a" stroke="#1a1a1a" stroke-width="0.165" >75</text>
<line x1="279.5" y1="270.8" x2="282.4" y2="270.8" stroke="#111" stroke-width="0.9"/>
<text x="277.00" y="272.90" font-size="5.9" text-anchor="end" fill="#1a1a1a" stroke="#1a1a1a" stroke-width="0.165" >50</text>
<line x1="279.5" y1="280.3" x2="282.4" y2="280.3" stroke="#111" stroke-width="0.9"/>
<text x="277.00" y="282.40" font-size="5.9" text-anchor="end" fill="#1a1a1a" stroke="#1a1a1a" stroke-width="0.165" >25</text>
<line x1="279.5" y1="289.8" x2="282.4" y2="289.8" stroke="#111" stroke-width="0.9"/>
<text x="277.00" y="291.90" font-size="5.9" text-anchor="end" fill="#1a1a1a" stroke="#1a1a1a" stroke-width="0.165" >0</text>
<line x1="296.0" y1="276.2" x2="296.0" y2="285.5" stroke="#111" stroke-width="0.95"/>
<line x1="293.8" y1="276.2" x2="298.2" y2="276.2" stroke="#111" stroke-width="0.95"/>
<line x1="293.8" y1="285.5" x2="298.2" y2="285.5" stroke="#111" stroke-width="0.95"/>
<line x1="289.2" y1="281.0" x2="302.8" y2="281.0" stroke="#111" stroke-width="1.15"/>
<line x1="316.2" y1="273.2" x2="316.2" y2="285.2" stroke="#111" stroke-width="0.95"/>
<line x1="314.0" y1="273.2" x2="318.4" y2="273.2" stroke="#111" stroke-width="0.95"/>
<line x1="314.0" y1="285.2" x2="318.4" y2="285.2" stroke="#111" stroke-width="0.95"/>
<line x1="309.4" y1="279.4" x2="323.0" y2="279.4" stroke="#111" stroke-width="1.15"/>
<line x1="349.9" y1="275.5" x2="349.9" y2="285.2" stroke="#111" stroke-width="0.95"/>
<line x1="347.7" y1="275.5" x2="352.09999999999997" y2="275.5" stroke="#111" stroke-width="0.95"/>
<line x1="347.7" y1="285.2" x2="352.09999999999997" y2="285.2" stroke="#111" stroke-width="0.95"/>
<line x1="343.09999999999997" y1="280.3" x2="356.7" y2="280.3" stroke="#111" stroke-width="1.15"/>
<line x1="370.4" y1="270.5" x2="370.4" y2="284.0" stroke="#111" stroke-width="0.95"/>
<line x1="368.2" y1="270.5" x2="372.59999999999997" y2="270.5" stroke="#111" stroke-width="0.95"/>
<line x1="368.2" y1="284.0" x2="372.59999999999997" y2="284.0" stroke="#111" stroke-width="0.95"/>
<line x1="363.59999999999997" y1="277.0" x2="377.2" y2="277.0" stroke="#111" stroke-width="1.15"/>
<line x1="404.0" y1="272.3" x2="404.0" y2="285.2" stroke="#111" stroke-width="0.95"/>
<line x1="401.8" y1="272.3" x2="406.2" y2="272.3" stroke="#111" stroke-width="0.95"/>
<line x1="401.8" y1="285.2" x2="406.2" y2="285.2" stroke="#111" stroke-width="0.95"/>
<line x1="397.2" y1="279.6" x2="410.8" y2="279.6" stroke="#111" stroke-width="1.15"/>
<line x1="424.4" y1="274.8" x2="424.4" y2="283.5" stroke="#111" stroke-width="0.95"/>
<line x1="422.2" y1="274.8" x2="426.59999999999997" y2="274.8" stroke="#111" stroke-width="0.95"/>
<line x1="422.2" y1="283.5" x2="426.59999999999997" y2="283.5" stroke="#111" stroke-width="0.95"/>
<line x1="417.59999999999997" y1="280.6" x2="431.2" y2="280.6" stroke="#111" stroke-width="1.15"/>
<line x1="458.1" y1="274.1" x2="458.1" y2="285.2" stroke="#111" stroke-width="0.95"/>
<line x1="455.90000000000003" y1="274.1" x2="460.3" y2="274.1" stroke="#111" stroke-width="0.95"/>
<line x1="455.90000000000003" y1="285.2" x2="460.3" y2="285.2" stroke="#111" stroke-width="0.95"/>
<line x1="451.3" y1="279.6" x2="464.90000000000003" y2="279.6" stroke="#111" stroke-width="1.15"/>
<line x1="478.4" y1="270.5" x2="478.4" y2="285.2" stroke="#111" stroke-width="0.95"/>
<line x1="476.2" y1="270.5" x2="480.59999999999997" y2="270.5" stroke="#111" stroke-width="0.95"/>
<line x1="476.2" y1="285.2" x2="480.59999999999997" y2="285.2" stroke="#111" stroke-width="0.95"/>
<line x1="471.59999999999997" y1="277.3" x2="485.2" y2="277.3" stroke="#111" stroke-width="1.15"/>
<line x1="498.8" y1="273.8" x2="498.8" y2="284.0" stroke="#111" stroke-width="0.95"/>
<line x1="496.6" y1="273.8" x2="501.0" y2="273.8" stroke="#111" stroke-width="0.95"/>
<line x1="496.6" y1="284.0" x2="501.0" y2="284.0" stroke="#111" stroke-width="0.95"/>
<line x1="492.0" y1="280.2" x2="505.6" y2="280.2" stroke="#111" stroke-width="1.15"/>
<text x="316.30" y="243.40" font-size="5.0" text-anchor="middle" fill="#2a2a2a" stroke="#2a2a2a" stroke-width="0.040" >P=0.015</text>
<text x="370.50" y="243.40" font-size="5.0" text-anchor="middle" fill="#2a2a2a" stroke="#2a2a2a" stroke-width="0.040" >P=0.012</text>
<text x="477.40" y="243.40" font-size="5.0" text-anchor="middle" fill="#2a2a2a" stroke="#2a2a2a" stroke-width="0.040" >P=0.035</text>
<text x="288.90" y="298.80" font-size="6.1" text-anchor="start" fill="#1a1a1a" stroke="#1a1a1a" stroke-width="0.171" textLength="14.40" lengthAdjust="spacingAndGlyphs" >None</text>
<text x="307.00" y="298.80" font-size="6.1" text-anchor="start" fill="#1a1a1a" stroke="#1a1a1a" stroke-width="0.171" textLength="24.20" lengthAdjust="spacingAndGlyphs" >Mutation</text>
<text x="337.80" y="298.80" font-size="6.1" text-anchor="start" fill="#1a1a1a" stroke="#1a1a1a" stroke-width="0.171" textLength="24.60" lengthAdjust="spacingAndGlyphs" >0.02-0.10</text>
<text x="367.20" y="298.80" font-size="6.1" text-anchor="start" fill="#1a1a1a" stroke="#1a1a1a" stroke-width="0.171" textLength="11.00" lengthAdjust="spacingAndGlyphs" >&gt;0.1</text>
<text x="404.00" y="298.80" font-size="6.1" text-anchor="middle" fill="#1a1a1a" stroke="#1a1a1a" stroke-width="0.171" >1</text>
<text x="420.80" y="298.80" font-size="6.1" text-anchor="start" fill="#1a1a1a" stroke="#1a1a1a" stroke-width="0.171" textLength="6.30" lengthAdjust="spacingAndGlyphs" >&gt;1</text>
<text x="451.70" y="298.80" font-size="6.1" text-anchor="start" fill="#1a1a1a" stroke="#1a1a1a" stroke-width="0.171" textLength="12.60" lengthAdjust="spacingAndGlyphs" >TET2</text>
<text x="469.10" y="298.80" font-size="6.1" text-anchor="start" fill="#1a1a1a" stroke="#1a1a1a" stroke-width="0.171" textLength="24.80" lengthAdjust="spacingAndGlyphs" >DNMT3A</text>
<text x="496.60" y="298.80" font-size="6.1" text-anchor="start" fill="#1a1a1a" stroke="#1a1a1a" stroke-width="0.171" textLength="16.00" lengthAdjust="spacingAndGlyphs" >Other</text>
<line x1="291.3" y1="303.6" x2="321.1" y2="303.6" stroke="#222" stroke-width="1.1"/>
<line x1="345.1" y1="303.6" x2="375.3" y2="303.6" stroke="#222" stroke-width="1.1"/>
<line x1="397.3" y1="303.6" x2="430.9" y2="303.6" stroke="#222" stroke-width="1.1"/>
<line x1="451.4" y1="303.6" x2="505.2" y2="303.6" stroke="#222" stroke-width="1.1"/>
<text x="302.30" y="312.20" font-size="6.6" text-anchor="start" fill="#1a1a1a" stroke="#1a1a1a" stroke-width="0.185" textLength="7.30" lengthAdjust="spacingAndGlyphs" >CH</text>
<text x="352.30" y="312.20" font-size="6.6" text-anchor="start" fill="#1a1a1a" stroke="#1a1a1a" stroke-width="0.185" textLength="7.20" lengthAdjust="spacingAndGlyphs" >CH</text>
<text x="361.40" y="313.40" font-size="3.6" text-anchor="start" fill="#1a1a1a" stroke="#1a1a1a" stroke-width="0.101" textLength="5.80" lengthAdjust="spacingAndGlyphs" >VAF</text>
<text x="406.20" y="312.20" font-size="6.6" text-anchor="start" fill="#1a1a1a" stroke="#1a1a1a" stroke-width="0.185" textLength="7.40" lengthAdjust="spacingAndGlyphs" >CH</text>
<text x="414.30" y="313.40" font-size="3.6" text-anchor="start" fill="#1a1a1a" stroke="#1a1a1a" stroke-width="0.101" textLength="7.70" lengthAdjust="spacingAndGlyphs" >mut</text>
<text x="469.80" y="312.20" font-size="6.6" text-anchor="start" fill="#1a1a1a" stroke="#1a1a1a" stroke-width="0.185" textLength="7.00" lengthAdjust="spacingAndGlyphs" >CH</text>
<text x="477.50" y="313.40" font-size="3.6" text-anchor="start" fill="#1a1a1a" stroke="#1a1a1a" stroke-width="0.101" textLength="9.20" lengthAdjust="spacingAndGlyphs" >gene</text>
</svg>
<div class="bt"></div><div class="bl"></div><div class="br"></div><div class="bb"></div>
</body></html>
